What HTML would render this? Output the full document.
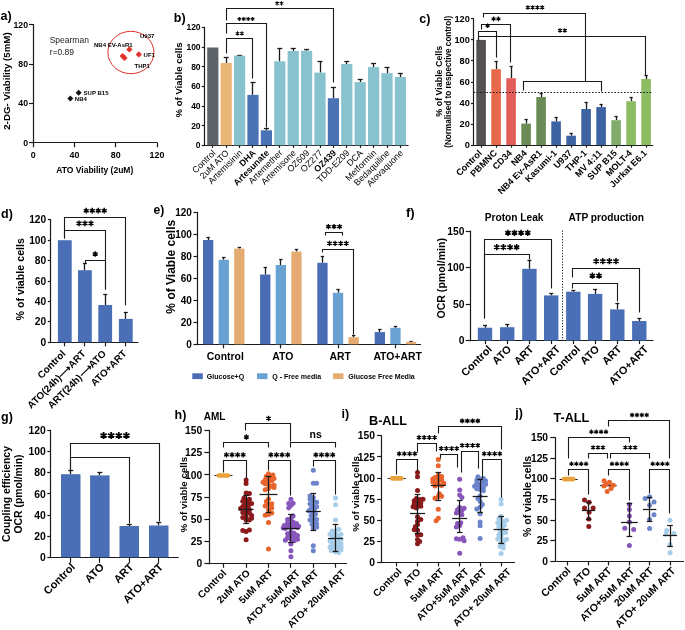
<!DOCTYPE html>
<html><head><meta charset="utf-8"><style>
html,body{margin:0;padding:0;background:#fff;}
svg{display:block;font-family:"Liberation Sans", sans-serif;will-change:transform;}
</style></head><body>
<svg width="685" height="630" viewBox="0 0 685 630">
<rect width="685" height="630" fill="#fff"/>
<text x="0.50" y="19.80" font-size="12.5" font-weight="bold" text-anchor="start" fill="#000" >a)</text>
<line x1="33.50" y1="24.00" x2="33.50" y2="143.40" stroke="#1a1a1a" stroke-width="1.2" />
<line x1="29.00" y1="24.50" x2="33.30" y2="24.50" stroke="#1a1a1a" stroke-width="1.2" />
<text x="28.00" y="27.64" font-size="8.7" font-weight="bold" text-anchor="end" fill="#000" >120</text>
<line x1="29.00" y1="64.50" x2="33.30" y2="64.50" stroke="#1a1a1a" stroke-width="1.2" />
<text x="28.00" y="67.05" font-size="8.7" font-weight="bold" text-anchor="end" fill="#000" >80</text>
<line x1="29.00" y1="103.50" x2="33.30" y2="103.50" stroke="#1a1a1a" stroke-width="1.2" />
<text x="28.00" y="106.45" font-size="8.7" font-weight="bold" text-anchor="end" fill="#000" >40</text>
<line x1="29.00" y1="142.50" x2="33.30" y2="142.50" stroke="#1a1a1a" stroke-width="1.2" />
<text x="28.00" y="145.84" font-size="8.7" font-weight="bold" text-anchor="end" fill="#000" >0</text>
<line x1="32.70" y1="142.50" x2="157.50" y2="142.50" stroke="#1a1a1a" stroke-width="1.2" />
<line x1="33.50" y1="142.80" x2="33.50" y2="147.30" stroke="#1a1a1a" stroke-width="1.2" />
<text x="33.30" y="158.12" font-size="8.9" font-weight="bold" text-anchor="middle" fill="#000" >0</text>
<line x1="74.50" y1="142.80" x2="74.50" y2="147.30" stroke="#1a1a1a" stroke-width="1.2" />
<text x="74.53" y="158.12" font-size="8.9" font-weight="bold" text-anchor="middle" fill="#000" >40</text>
<line x1="115.50" y1="142.80" x2="115.50" y2="147.30" stroke="#1a1a1a" stroke-width="1.2" />
<text x="115.77" y="158.12" font-size="8.9" font-weight="bold" text-anchor="middle" fill="#000" >80</text>
<line x1="157.50" y1="142.80" x2="157.50" y2="147.30" stroke="#1a1a1a" stroke-width="1.2" />
<text x="157.00" y="158.12" font-size="8.9" font-weight="bold" text-anchor="middle" fill="#000" >120</text>
<text x="94.80" y="173.30" font-size="8.5" font-weight="bold" text-anchor="middle" fill="#000" >ATO Viability (2uM)</text>
<text x="10.00" y="81.00" font-size="9.7" font-weight="bold" text-anchor="middle" fill="#000" transform="rotate(-90 10.00 81.00)" >2-DG- Viability (5mM)</text>
<text x="49.70" y="43.20" font-size="8.5"  text-anchor="start" fill="#1a1a1a" >Spearman</text>
<text x="49.70" y="54.80" font-size="8.5"  text-anchor="start" fill="#1a1a1a" >r=0.89</text>
<polygon points="70.3,95.6 73.3,98.6 70.3,101.6 67.3,98.6" fill="#111"/>
<polygon points="78.6,89.7 81.6,92.7 78.6,95.7 75.6,92.7" fill="#111"/>
<polygon points="129.4,46.3 132.5,49.4 129.4,52.5 126.30000000000001,49.4" fill="#e0312a"/>
<polygon points="138.8,51.3 141.9,54.4 138.8,57.5 135.70000000000002,54.4" fill="#e0312a"/>
<polygon points="122.6,52.9 125.69999999999999,56 122.6,59.1 119.5,56" fill="#e0312a"/>
<polygon points="124.5,54.8 127.6,57.9 124.5,61.0 121.4,57.9" fill="#e0312a"/>
<ellipse cx="130.9" cy="52.5" rx="23" ry="21.2" fill="none" stroke="#e0312a" stroke-width="1"/>
<text x="74.80" y="101.20" font-size="6.0" font-weight="bold" text-anchor="start" fill="#000" >NB4</text>
<text x="83.60" y="95.00" font-size="6.0" font-weight="bold" text-anchor="start" fill="#000" >SUP B15</text>
<text x="140.00" y="38.00" font-size="6.0" font-weight="bold" text-anchor="start" fill="#000" >U937</text>
<text x="94.00" y="47.20" font-size="6.0" font-weight="bold" text-anchor="start" fill="#000" >NB4 EV-AsR1</text>
<text x="143.60" y="56.80" font-size="6.0" font-weight="bold" text-anchor="start" fill="#000" >UF1</text>
<text x="134.50" y="67.80" font-size="6.0" font-weight="bold" text-anchor="start" fill="#000" >THP1</text>
<text x="173.80" y="22.00" font-size="12.5" font-weight="bold" text-anchor="start" fill="#000" >b)</text>
<line x1="204.50" y1="26.80" x2="204.50" y2="145.90" stroke="#1a1a1a" stroke-width="1.2" />
<line x1="201.80" y1="27.50" x2="204.40" y2="27.50" stroke="#1a1a1a" stroke-width="1.2" />
<text x="200.60" y="30.38" font-size="8.5" font-weight="bold" text-anchor="end" fill="#000" >120</text>
<line x1="201.80" y1="47.50" x2="204.40" y2="47.50" stroke="#1a1a1a" stroke-width="1.2" />
<text x="200.60" y="50.03" font-size="8.5" font-weight="bold" text-anchor="end" fill="#000" >100</text>
<line x1="201.80" y1="66.50" x2="204.40" y2="66.50" stroke="#1a1a1a" stroke-width="1.2" />
<text x="200.60" y="69.67" font-size="8.5" font-weight="bold" text-anchor="end" fill="#000" >80</text>
<line x1="201.80" y1="86.50" x2="204.40" y2="86.50" stroke="#1a1a1a" stroke-width="1.2" />
<text x="200.60" y="89.33" font-size="8.5" font-weight="bold" text-anchor="end" fill="#000" >60</text>
<line x1="201.80" y1="106.50" x2="204.40" y2="106.50" stroke="#1a1a1a" stroke-width="1.2" />
<text x="200.60" y="108.97" font-size="8.5" font-weight="bold" text-anchor="end" fill="#000" >40</text>
<line x1="201.80" y1="125.50" x2="204.40" y2="125.50" stroke="#1a1a1a" stroke-width="1.2" />
<text x="200.60" y="128.62" font-size="8.5" font-weight="bold" text-anchor="end" fill="#000" >20</text>
<line x1="201.80" y1="145.50" x2="204.40" y2="145.50" stroke="#1a1a1a" stroke-width="1.2" />
<text x="200.60" y="148.28" font-size="8.5" font-weight="bold" text-anchor="end" fill="#000" >0</text>
<line x1="203.80" y1="145.50" x2="408.60" y2="145.50" stroke="#1a1a1a" stroke-width="1.2" />
<text x="182.30" y="80.00" font-size="9.6" font-weight="bold" text-anchor="middle" fill="#000" transform="rotate(-90 182.30 80.00)" >% of Viable cells</text>
<rect x="207.20" y="47.50" width="11.20" height="97.80" fill="#5e6367"/>
<line x1="226.50" y1="57.40" x2="226.50" y2="63.00" stroke="#1a1a1a" stroke-width="1.3" />
<line x1="223.70" y1="57.50" x2="228.70" y2="57.50" stroke="#1a1a1a" stroke-width="1.3" />
<rect x="220.60" y="63.00" width="11.20" height="82.30" fill="#e8b677"/>
<line x1="239.50" y1="55.00" x2="239.50" y2="55.70" stroke="#1a1a1a" stroke-width="1.3" />
<line x1="237.10" y1="55.50" x2="242.10" y2="55.50" stroke="#1a1a1a" stroke-width="1.3" />
<rect x="234.00" y="55.70" width="11.20" height="89.60" fill="#89c2cf"/>
<line x1="252.50" y1="82.10" x2="252.50" y2="94.90" stroke="#1a1a1a" stroke-width="1.3" />
<line x1="250.50" y1="82.50" x2="255.50" y2="82.50" stroke="#1a1a1a" stroke-width="1.3" />
<rect x="247.40" y="94.90" width="11.20" height="50.40" fill="#4a72b5"/>
<line x1="266.50" y1="128.90" x2="266.50" y2="130.30" stroke="#1a1a1a" stroke-width="1.3" />
<line x1="263.90" y1="128.50" x2="268.90" y2="128.50" stroke="#1a1a1a" stroke-width="1.3" />
<rect x="260.80" y="130.30" width="11.20" height="15.00" fill="#4a72b5"/>
<line x1="279.50" y1="48.90" x2="279.50" y2="61.30" stroke="#1a1a1a" stroke-width="1.3" />
<line x1="277.30" y1="48.50" x2="282.30" y2="48.50" stroke="#1a1a1a" stroke-width="1.3" />
<rect x="274.20" y="61.30" width="11.20" height="84.00" fill="#89c2cf"/>
<line x1="293.50" y1="48.90" x2="293.50" y2="51.00" stroke="#1a1a1a" stroke-width="1.3" />
<line x1="290.70" y1="48.50" x2="295.70" y2="48.50" stroke="#1a1a1a" stroke-width="1.3" />
<rect x="287.60" y="51.00" width="11.20" height="94.30" fill="#89c2cf"/>
<line x1="306.50" y1="49.50" x2="306.50" y2="50.80" stroke="#1a1a1a" stroke-width="1.3" />
<line x1="304.10" y1="49.50" x2="309.10" y2="49.50" stroke="#1a1a1a" stroke-width="1.3" />
<rect x="301.00" y="50.80" width="11.20" height="94.50" fill="#89c2cf"/>
<line x1="320.50" y1="61.90" x2="320.50" y2="72.60" stroke="#1a1a1a" stroke-width="1.3" />
<line x1="317.50" y1="61.50" x2="322.50" y2="61.50" stroke="#1a1a1a" stroke-width="1.3" />
<rect x="314.40" y="72.60" width="11.20" height="72.70" fill="#89c2cf"/>
<line x1="333.50" y1="87.10" x2="333.50" y2="98.20" stroke="#1a1a1a" stroke-width="1.3" />
<line x1="330.90" y1="87.50" x2="335.90" y2="87.50" stroke="#1a1a1a" stroke-width="1.3" />
<rect x="327.80" y="98.20" width="11.20" height="47.10" fill="#4a72b5"/>
<line x1="346.50" y1="61.10" x2="346.50" y2="64.00" stroke="#1a1a1a" stroke-width="1.3" />
<line x1="344.30" y1="61.50" x2="349.30" y2="61.50" stroke="#1a1a1a" stroke-width="1.3" />
<rect x="341.20" y="64.00" width="11.20" height="81.30" fill="#89c2cf"/>
<line x1="360.50" y1="79.20" x2="360.50" y2="82.10" stroke="#1a1a1a" stroke-width="1.3" />
<line x1="357.70" y1="79.50" x2="362.70" y2="79.50" stroke="#1a1a1a" stroke-width="1.3" />
<rect x="354.60" y="82.10" width="11.20" height="63.20" fill="#89c2cf"/>
<line x1="373.50" y1="63.80" x2="373.50" y2="67.10" stroke="#1a1a1a" stroke-width="1.3" />
<line x1="371.10" y1="63.50" x2="376.10" y2="63.50" stroke="#1a1a1a" stroke-width="1.3" />
<rect x="368.00" y="67.10" width="11.20" height="78.20" fill="#89c2cf"/>
<line x1="387.50" y1="67.80" x2="387.50" y2="73.10" stroke="#1a1a1a" stroke-width="1.3" />
<line x1="384.50" y1="67.50" x2="389.50" y2="67.50" stroke="#1a1a1a" stroke-width="1.3" />
<rect x="381.40" y="73.10" width="11.20" height="72.20" fill="#89c2cf"/>
<line x1="400.50" y1="73.80" x2="400.50" y2="77.00" stroke="#1a1a1a" stroke-width="1.3" />
<line x1="397.90" y1="73.50" x2="402.90" y2="73.50" stroke="#1a1a1a" stroke-width="1.3" />
<rect x="394.80" y="77.00" width="11.20" height="68.30" fill="#89c2cf"/>
<line x1="212.50" y1="145.30" x2="212.50" y2="147.90" stroke="#1a1a1a" stroke-width="1.2" />
<line x1="226.50" y1="145.30" x2="226.50" y2="147.90" stroke="#1a1a1a" stroke-width="1.2" />
<line x1="239.50" y1="145.30" x2="239.50" y2="147.90" stroke="#1a1a1a" stroke-width="1.2" />
<line x1="252.50" y1="145.30" x2="252.50" y2="147.90" stroke="#1a1a1a" stroke-width="1.2" />
<line x1="266.50" y1="145.30" x2="266.50" y2="147.90" stroke="#1a1a1a" stroke-width="1.2" />
<line x1="279.50" y1="145.30" x2="279.50" y2="147.90" stroke="#1a1a1a" stroke-width="1.2" />
<line x1="293.50" y1="145.30" x2="293.50" y2="147.90" stroke="#1a1a1a" stroke-width="1.2" />
<line x1="306.50" y1="145.30" x2="306.50" y2="147.90" stroke="#1a1a1a" stroke-width="1.2" />
<line x1="320.50" y1="145.30" x2="320.50" y2="147.90" stroke="#1a1a1a" stroke-width="1.2" />
<line x1="333.50" y1="145.30" x2="333.50" y2="147.90" stroke="#1a1a1a" stroke-width="1.2" />
<line x1="346.50" y1="145.30" x2="346.50" y2="147.90" stroke="#1a1a1a" stroke-width="1.2" />
<line x1="360.50" y1="145.30" x2="360.50" y2="147.90" stroke="#1a1a1a" stroke-width="1.2" />
<line x1="373.50" y1="145.30" x2="373.50" y2="147.90" stroke="#1a1a1a" stroke-width="1.2" />
<line x1="387.50" y1="145.30" x2="387.50" y2="147.90" stroke="#1a1a1a" stroke-width="1.2" />
<line x1="400.50" y1="145.30" x2="400.50" y2="147.90" stroke="#1a1a1a" stroke-width="1.2" />
<text x="216.10" y="153.50" font-size="8.9"  text-anchor="end" fill="#000" transform="rotate(-45 216.10 153.50)" >Control</text>
<text x="229.50" y="153.50" font-size="8.9"  text-anchor="end" fill="#000" transform="rotate(-45 229.50 153.50)" >2uM ATO</text>
<text x="242.90" y="153.50" font-size="8.9"  text-anchor="end" fill="#000" transform="rotate(-45 242.90 153.50)" >Artemisinin</text>
<text x="256.30" y="153.50" font-size="8.9" font-weight="bold" text-anchor="end" fill="#000" transform="rotate(-45 256.30 153.50)" >DHA</text>
<text x="269.70" y="153.50" font-size="8.9" font-weight="bold" text-anchor="end" fill="#000" transform="rotate(-45 269.70 153.50)" >Artesunate</text>
<text x="283.10" y="153.50" font-size="8.9"  text-anchor="end" fill="#000" transform="rotate(-45 283.10 153.50)" >Artemether</text>
<text x="296.50" y="153.50" font-size="8.9"  text-anchor="end" fill="#000" transform="rotate(-45 296.50 153.50)" >Artemisone</text>
<text x="309.90" y="153.50" font-size="8.9"  text-anchor="end" fill="#000" transform="rotate(-45 309.90 153.50)" >OZ609</text>
<text x="323.30" y="153.50" font-size="8.9"  text-anchor="end" fill="#000" transform="rotate(-45 323.30 153.50)" >OZ277</text>
<text x="336.70" y="153.50" font-size="8.9" font-weight="bold" text-anchor="end" fill="#000" transform="rotate(-45 336.70 153.50)" >OZ439</text>
<text x="350.10" y="153.50" font-size="8.9"  text-anchor="end" fill="#000" transform="rotate(-45 350.10 153.50)" >TDD-E209</text>
<text x="363.50" y="153.50" font-size="8.9"  text-anchor="end" fill="#000" transform="rotate(-45 363.50 153.50)" >DCA</text>
<text x="376.90" y="153.50" font-size="8.9"  text-anchor="end" fill="#000" transform="rotate(-45 376.90 153.50)" >Metformin</text>
<text x="390.30" y="153.50" font-size="8.9"  text-anchor="end" fill="#000" transform="rotate(-45 390.30 153.50)" >Bedaquiline</text>
<text x="403.70" y="153.50" font-size="8.9"  text-anchor="end" fill="#000" transform="rotate(-45 403.70 153.50)" >Atovaquone</text>
<polyline points="226.50,20.50 226.50,8.50 333.50,8.50 333.50,82.50" fill="none" stroke="#1a1a1a" stroke-width="1.1" stroke-linejoin="miter"/>
<polyline points="226.50,33.50 226.50,23.50 266.50,23.50 266.50,127.50" fill="none" stroke="#1a1a1a" stroke-width="1.1" stroke-linejoin="miter"/>
<polyline points="226.50,53.50 226.50,38.50 252.50,38.50 252.50,78.50" fill="none" stroke="#1a1a1a" stroke-width="1.1" stroke-linejoin="miter"/>
<path d="M277.10 1.21L277.10 5.39M275.29 2.25L278.91 4.34M278.91 2.25L275.29 4.34M281.50 1.21L281.50 5.39M279.69 2.25L283.31 4.34M283.31 2.25L279.69 4.34" stroke="#000" stroke-width="1.04" fill="none"/>
<path d="M239.40 16.91L239.40 21.09M237.59 17.96L241.21 20.04M241.21 17.96L237.59 20.04M243.80 16.91L243.80 21.09M241.99 17.96L245.61 20.04M245.61 17.96L241.99 20.04M248.20 16.91L248.20 21.09M246.39 17.96L250.01 20.04M250.01 17.96L246.39 20.04M252.60 16.91L252.60 21.09M250.79 17.96L254.41 20.04M254.41 17.96L250.79 20.04" stroke="#000" stroke-width="1.04" fill="none"/>
<path d="M237.50 31.31L237.50 35.49M235.69 32.35L239.31 34.45M239.31 32.35L235.69 34.45M241.90 31.31L241.90 35.49M240.09 32.35L243.71 34.45M243.71 32.35L240.09 34.45" stroke="#000" stroke-width="1.04" fill="none"/>
<text x="419.30" y="23.20" font-size="12.5" font-weight="bold" text-anchor="start" fill="#000" >c)</text>
<line x1="473.50" y1="18.30" x2="473.50" y2="145.70" stroke="#1a1a1a" stroke-width="1.2" />
<line x1="471.00" y1="18.50" x2="473.60" y2="18.50" stroke="#1a1a1a" stroke-width="1.2" />
<text x="469.80" y="22.12" font-size="9.2" font-weight="bold" text-anchor="end" fill="#000" >120</text>
<line x1="471.00" y1="39.50" x2="473.60" y2="39.50" stroke="#1a1a1a" stroke-width="1.2" />
<text x="469.80" y="43.15" font-size="9.2" font-weight="bold" text-anchor="end" fill="#000" >100</text>
<line x1="471.00" y1="60.50" x2="473.60" y2="60.50" stroke="#1a1a1a" stroke-width="1.2" />
<text x="469.80" y="64.19" font-size="9.2" font-weight="bold" text-anchor="end" fill="#000" >80</text>
<line x1="471.00" y1="82.50" x2="473.60" y2="82.50" stroke="#1a1a1a" stroke-width="1.2" />
<text x="469.80" y="85.22" font-size="9.2" font-weight="bold" text-anchor="end" fill="#000" >60</text>
<line x1="471.00" y1="103.50" x2="473.60" y2="103.50" stroke="#1a1a1a" stroke-width="1.2" />
<text x="469.80" y="106.25" font-size="9.2" font-weight="bold" text-anchor="end" fill="#000" >40</text>
<line x1="471.00" y1="124.50" x2="473.60" y2="124.50" stroke="#1a1a1a" stroke-width="1.2" />
<text x="469.80" y="127.29" font-size="9.2" font-weight="bold" text-anchor="end" fill="#000" >20</text>
<line x1="471.00" y1="145.50" x2="473.60" y2="145.50" stroke="#1a1a1a" stroke-width="1.2" />
<text x="469.80" y="148.32" font-size="9.2" font-weight="bold" text-anchor="end" fill="#000" >0</text>
<line x1="473.00" y1="145.50" x2="653.30" y2="145.50" stroke="#1a1a1a" stroke-width="1.2" />
<text x="442.30" y="81.20" font-size="8.9" font-weight="bold" text-anchor="middle" fill="#000" transform="rotate(-90 442.30 81.20)" >% of Viable Cells</text>
<text x="450.90" y="81.80" font-size="8.15" font-weight="bold" text-anchor="middle" fill="#000" transform="rotate(-90 450.90 81.80)" >(Normalised to respective control)</text>
<rect x="476.30" y="39.90" width="9.60" height="105.20" fill="#555152"/>
<line x1="496.50" y1="61.00" x2="496.50" y2="69.20" stroke="#1a1a1a" stroke-width="1.3" />
<line x1="494.50" y1="61.50" x2="497.70" y2="61.50" stroke="#1a1a1a" stroke-width="1.3" />
<rect x="491.30" y="69.20" width="9.60" height="75.90" fill="#e8694a"/>
<line x1="511.50" y1="66.40" x2="511.50" y2="78.20" stroke="#1a1a1a" stroke-width="1.3" />
<line x1="509.50" y1="66.50" x2="512.70" y2="66.50" stroke="#1a1a1a" stroke-width="1.3" />
<rect x="506.30" y="78.20" width="9.60" height="66.90" fill="#e35d5a"/>
<line x1="526.50" y1="119.30" x2="526.50" y2="123.60" stroke="#1a1a1a" stroke-width="1.3" />
<line x1="524.50" y1="119.50" x2="527.70" y2="119.50" stroke="#1a1a1a" stroke-width="1.3" />
<rect x="521.30" y="123.60" width="9.60" height="21.50" fill="#6b8c57"/>
<line x1="541.50" y1="93.40" x2="541.50" y2="97.00" stroke="#1a1a1a" stroke-width="1.3" />
<line x1="539.50" y1="93.50" x2="542.70" y2="93.50" stroke="#1a1a1a" stroke-width="1.3" />
<rect x="536.30" y="97.00" width="9.60" height="48.10" fill="#6b8c57"/>
<line x1="556.50" y1="117.90" x2="556.50" y2="121.40" stroke="#1a1a1a" stroke-width="1.3" />
<line x1="554.50" y1="117.50" x2="557.70" y2="117.50" stroke="#1a1a1a" stroke-width="1.3" />
<rect x="551.30" y="121.40" width="9.60" height="23.70" fill="#3e63a3"/>
<line x1="571.50" y1="133.30" x2="571.50" y2="135.70" stroke="#1a1a1a" stroke-width="1.3" />
<line x1="569.50" y1="133.50" x2="572.70" y2="133.50" stroke="#1a1a1a" stroke-width="1.3" />
<rect x="566.30" y="135.70" width="9.60" height="9.40" fill="#3e63a3"/>
<line x1="586.50" y1="102.40" x2="586.50" y2="109.00" stroke="#1a1a1a" stroke-width="1.3" />
<line x1="584.50" y1="102.50" x2="587.70" y2="102.50" stroke="#1a1a1a" stroke-width="1.3" />
<rect x="581.30" y="109.00" width="9.60" height="36.10" fill="#3e63a3"/>
<line x1="601.50" y1="104.30" x2="601.50" y2="107.10" stroke="#1a1a1a" stroke-width="1.3" />
<line x1="599.50" y1="104.50" x2="602.70" y2="104.50" stroke="#1a1a1a" stroke-width="1.3" />
<rect x="596.30" y="107.10" width="9.60" height="38.00" fill="#3e63a3"/>
<line x1="616.50" y1="116.70" x2="616.50" y2="120.20" stroke="#1a1a1a" stroke-width="1.3" />
<line x1="614.50" y1="116.50" x2="617.70" y2="116.50" stroke="#1a1a1a" stroke-width="1.3" />
<rect x="611.30" y="120.20" width="9.60" height="24.90" fill="#80ad6c"/>
<line x1="631.50" y1="97.10" x2="631.50" y2="101.20" stroke="#1a1a1a" stroke-width="1.3" />
<line x1="629.50" y1="97.50" x2="632.70" y2="97.50" stroke="#1a1a1a" stroke-width="1.3" />
<rect x="626.30" y="101.20" width="9.60" height="43.90" fill="#8dbd63"/>
<line x1="646.50" y1="75.00" x2="646.50" y2="79.00" stroke="#1a1a1a" stroke-width="1.3" />
<line x1="644.50" y1="75.50" x2="647.70" y2="75.50" stroke="#1a1a1a" stroke-width="1.3" />
<rect x="641.30" y="79.00" width="9.60" height="66.10" fill="#8dbd63"/>
<line x1="481.50" y1="145.10" x2="481.50" y2="147.70" stroke="#1a1a1a" stroke-width="1.2" />
<line x1="496.50" y1="145.10" x2="496.50" y2="147.70" stroke="#1a1a1a" stroke-width="1.2" />
<line x1="511.50" y1="145.10" x2="511.50" y2="147.70" stroke="#1a1a1a" stroke-width="1.2" />
<line x1="526.50" y1="145.10" x2="526.50" y2="147.70" stroke="#1a1a1a" stroke-width="1.2" />
<line x1="541.50" y1="145.10" x2="541.50" y2="147.70" stroke="#1a1a1a" stroke-width="1.2" />
<line x1="556.50" y1="145.10" x2="556.50" y2="147.70" stroke="#1a1a1a" stroke-width="1.2" />
<line x1="571.50" y1="145.10" x2="571.50" y2="147.70" stroke="#1a1a1a" stroke-width="1.2" />
<line x1="586.50" y1="145.10" x2="586.50" y2="147.70" stroke="#1a1a1a" stroke-width="1.2" />
<line x1="601.50" y1="145.10" x2="601.50" y2="147.70" stroke="#1a1a1a" stroke-width="1.2" />
<line x1="616.50" y1="145.10" x2="616.50" y2="147.70" stroke="#1a1a1a" stroke-width="1.2" />
<line x1="631.50" y1="145.10" x2="631.50" y2="147.70" stroke="#1a1a1a" stroke-width="1.2" />
<line x1="646.50" y1="145.10" x2="646.50" y2="147.70" stroke="#1a1a1a" stroke-width="1.2" />
<text x="482.60" y="153.70" font-size="9.1" font-weight="bold" text-anchor="end" fill="#000" transform="rotate(-45 482.60 153.70)" >Control</text>
<text x="497.60" y="153.70" font-size="9.1" font-weight="bold" text-anchor="end" fill="#000" transform="rotate(-45 497.60 153.70)" >PBMNC</text>
<text x="512.60" y="153.70" font-size="9.1" font-weight="bold" text-anchor="end" fill="#000" transform="rotate(-45 512.60 153.70)" >CD34</text>
<text x="527.60" y="153.70" font-size="9.1" font-weight="bold" text-anchor="end" fill="#000" transform="rotate(-45 527.60 153.70)" >NB4</text>
<text x="542.60" y="153.70" font-size="9.1" font-weight="bold" text-anchor="end" fill="#000" transform="rotate(-45 542.60 153.70)" >NB4 Ev-AsR1</text>
<text x="557.60" y="153.70" font-size="9.1" font-weight="bold" text-anchor="end" fill="#000" transform="rotate(-45 557.60 153.70)" >Kasumi-1</text>
<text x="572.60" y="153.70" font-size="9.1" font-weight="bold" text-anchor="end" fill="#000" transform="rotate(-45 572.60 153.70)" >U937</text>
<text x="587.60" y="153.70" font-size="9.1" font-weight="bold" text-anchor="end" fill="#000" transform="rotate(-45 587.60 153.70)" >THP-1</text>
<text x="602.60" y="153.70" font-size="9.1" font-weight="bold" text-anchor="end" fill="#000" transform="rotate(-45 602.60 153.70)" >MV 4:11</text>
<text x="617.60" y="153.70" font-size="9.1" font-weight="bold" text-anchor="end" fill="#000" transform="rotate(-45 617.60 153.70)" >SUP B15</text>
<text x="632.60" y="153.70" font-size="9.1" font-weight="bold" text-anchor="end" fill="#000" transform="rotate(-45 632.60 153.70)" >MOLT-4</text>
<text x="647.60" y="153.70" font-size="9.1" font-weight="bold" text-anchor="end" fill="#000" transform="rotate(-45 647.60 153.70)" >Jurkat E6.1</text>
<line x1="473.60" y1="92.50" x2="651.70" y2="92.50" stroke="#1a1a1a" stroke-width="1.1" stroke-dasharray="1.6 1.6"/>
<polyline points="483.50,17.50 483.50,13.50 585.50,13.50 585.50,81.50" fill="none" stroke="#1a1a1a" stroke-width="1.1" stroke-linejoin="miter"/>
<polyline points="523.50,90.50 523.50,81.50 601.50,81.50 601.50,91.50" fill="none" stroke="#1a1a1a" stroke-width="1.1" stroke-linejoin="miter"/>
<polyline points="478.50,40.50 478.50,36.50 645.50,36.50 645.50,75.50" fill="none" stroke="#1a1a1a" stroke-width="1.1" stroke-linejoin="miter"/>
<polyline points="481.50,29.50 481.50,24.50 510.50,24.50 510.50,62.50" fill="none" stroke="#1a1a1a" stroke-width="1.1" stroke-linejoin="miter"/>
<polyline points="478.50,40.50 478.50,31.50 496.50,31.50 496.50,57.50" fill="none" stroke="#1a1a1a" stroke-width="1.1" stroke-linejoin="miter"/>
<path d="M527.80 5.22L527.80 9.78M525.83 6.36L529.77 8.64M529.77 6.36L525.83 8.64M532.60 5.22L532.60 9.78M530.63 6.36L534.57 8.64M534.57 6.36L530.63 8.64M537.40 5.22L537.40 9.78M535.43 6.36L539.37 8.64M539.37 6.36L535.43 8.64M542.20 5.22L542.20 9.78M540.23 6.36L544.17 8.64M544.17 6.36L540.23 8.64" stroke="#000" stroke-width="1.14" fill="none"/>
<path d="M560.00 28.22L560.00 32.78M558.03 29.36L561.97 31.64M561.97 29.36L558.03 31.64M564.80 28.22L564.80 32.78M562.83 29.36L566.77 31.64M566.77 29.36L562.83 31.64" stroke="#000" stroke-width="1.14" fill="none"/>
<path d="M493.60 16.62L493.60 21.18M491.63 17.76L495.57 20.04M495.57 17.76L491.63 20.04M498.40 16.62L498.40 21.18M496.43 17.76L500.37 20.04M500.37 17.76L496.43 20.04" stroke="#000" stroke-width="1.14" fill="none"/>
<path d="M487.60 23.52L487.60 28.08M485.63 24.66L489.57 26.94M489.57 24.66L485.63 26.94" stroke="#000" stroke-width="1.14" fill="none"/>
<text x="1.00" y="217.50" font-size="12.5" font-weight="bold" text-anchor="start" fill="#000" >d)</text>
<line x1="50.50" y1="219.30" x2="50.50" y2="342.90" stroke="#1a1a1a" stroke-width="1.2" />
<line x1="47.80" y1="219.50" x2="50.80" y2="219.50" stroke="#1a1a1a" stroke-width="1.2" />
<text x="46.20" y="223.47" font-size="10.2" font-weight="bold" text-anchor="end" fill="#000" >120</text>
<line x1="47.80" y1="240.50" x2="50.80" y2="240.50" stroke="#1a1a1a" stroke-width="1.2" />
<text x="46.20" y="243.87" font-size="10.2" font-weight="bold" text-anchor="end" fill="#000" >100</text>
<line x1="47.80" y1="260.50" x2="50.80" y2="260.50" stroke="#1a1a1a" stroke-width="1.2" />
<text x="46.20" y="264.27" font-size="10.2" font-weight="bold" text-anchor="end" fill="#000" >80</text>
<line x1="47.80" y1="281.50" x2="50.80" y2="281.50" stroke="#1a1a1a" stroke-width="1.2" />
<text x="46.20" y="284.67" font-size="10.2" font-weight="bold" text-anchor="end" fill="#000" >60</text>
<line x1="47.80" y1="301.50" x2="50.80" y2="301.50" stroke="#1a1a1a" stroke-width="1.2" />
<text x="46.20" y="305.07" font-size="10.2" font-weight="bold" text-anchor="end" fill="#000" >40</text>
<line x1="47.80" y1="321.50" x2="50.80" y2="321.50" stroke="#1a1a1a" stroke-width="1.2" />
<text x="46.20" y="325.47" font-size="10.2" font-weight="bold" text-anchor="end" fill="#000" >20</text>
<line x1="47.80" y1="342.50" x2="50.80" y2="342.50" stroke="#1a1a1a" stroke-width="1.2" />
<text x="46.20" y="345.87" font-size="10.2" font-weight="bold" text-anchor="end" fill="#000" >0</text>
<line x1="50.20" y1="342.50" x2="138.40" y2="342.50" stroke="#1a1a1a" stroke-width="1.2" />
<text x="24.30" y="279.30" font-size="10.7" font-weight="bold" text-anchor="middle" fill="#000" transform="rotate(-90 24.30 279.30)" >% of viable cells</text>
<rect x="57.90" y="240.20" width="13.80" height="102.10" fill="#4a6fb6"/>
<line x1="84.50" y1="263.10" x2="84.50" y2="270.20" stroke="#1a1a1a" stroke-width="1.3" />
<line x1="82.90" y1="263.50" x2="86.90" y2="263.50" stroke="#1a1a1a" stroke-width="1.3" />
<rect x="78.00" y="270.20" width="13.80" height="72.10" fill="#4a6fb6"/>
<line x1="105.50" y1="294.30" x2="105.50" y2="305.00" stroke="#1a1a1a" stroke-width="1.3" />
<line x1="103.20" y1="294.50" x2="107.20" y2="294.50" stroke="#1a1a1a" stroke-width="1.3" />
<rect x="98.30" y="305.00" width="13.80" height="37.30" fill="#4a6fb6"/>
<line x1="125.50" y1="312.30" x2="125.50" y2="318.90" stroke="#1a1a1a" stroke-width="1.3" />
<line x1="123.80" y1="312.50" x2="127.80" y2="312.50" stroke="#1a1a1a" stroke-width="1.3" />
<rect x="118.90" y="318.90" width="13.80" height="23.40" fill="#4a6fb6"/>
<line x1="64.50" y1="342.30" x2="64.50" y2="346.30" stroke="#1a1a1a" stroke-width="1.2" />
<line x1="84.50" y1="342.30" x2="84.50" y2="346.30" stroke="#1a1a1a" stroke-width="1.2" />
<line x1="105.50" y1="342.30" x2="105.50" y2="346.30" stroke="#1a1a1a" stroke-width="1.2" />
<line x1="125.50" y1="342.30" x2="125.50" y2="346.30" stroke="#1a1a1a" stroke-width="1.2" />
<text x="66.30" y="354.30" font-size="9.9" font-weight="bold" text-anchor="end" fill="#000" transform="rotate(-45 66.30 354.30)" >Control</text>
<text x="86.40" y="354.30" font-size="9.9" font-weight="bold" text-anchor="end" fill="#000" transform="rotate(-45 86.40 354.30)" >ATO(24h)⟶ART</text>
<text x="106.70" y="354.30" font-size="9.9" font-weight="bold" text-anchor="end" fill="#000" transform="rotate(-45 106.70 354.30)" >ART(24h)⟶ATO</text>
<text x="127.30" y="354.30" font-size="9.9" font-weight="bold" text-anchor="end" fill="#000" transform="rotate(-45 127.30 354.30)" >ATO+ART</text>
<polyline points="64.50,238.50 64.50,217.50 125.50,217.50 125.50,305.50" fill="none" stroke="#1a1a1a" stroke-width="1.1" stroke-linejoin="miter"/>
<polyline points="64.50,238.50 64.50,230.50 105.50,230.50 105.50,289.50" fill="none" stroke="#1a1a1a" stroke-width="1.1" stroke-linejoin="miter"/>
<polyline points="85.50,263.50 85.50,260.50 105.50,260.50 105.50,289.50" fill="none" stroke="#1a1a1a" stroke-width="1.1" stroke-linejoin="miter"/>
<path d="M86.20 207.85L86.20 213.55M83.73 209.27L88.67 212.12M88.67 209.27L83.73 212.12M92.20 207.85L92.20 213.55M89.73 209.27L94.67 212.12M94.67 209.27L89.73 212.12M98.20 207.85L98.20 213.55M95.73 209.27L100.67 212.12M100.67 209.27L95.73 212.12M104.20 207.85L104.20 213.55M101.73 209.27L106.67 212.12M106.67 209.27L101.73 212.12" stroke="#000" stroke-width="1.43" fill="none"/>
<path d="M79.00 220.55L79.00 226.25M76.53 221.97L81.47 224.83M81.47 221.97L76.53 224.83M85.00 220.55L85.00 226.25M82.53 221.97L87.47 224.83M87.47 221.97L82.53 224.83M91.00 220.55L91.00 226.25M88.53 221.97L93.47 224.83M93.47 221.97L88.53 224.83" stroke="#000" stroke-width="1.43" fill="none"/>
<path d="M95.20 251.15L95.20 256.85M92.73 252.57L97.67 255.43M97.67 252.57L92.73 255.43" stroke="#000" stroke-width="1.43" fill="none"/>
<text x="153.50" y="213.80" font-size="12.2" font-weight="bold" text-anchor="start" fill="#000" >e)</text>
<line x1="197.50" y1="212.20" x2="197.50" y2="344.90" stroke="#1a1a1a" stroke-width="1.2" />
<line x1="193.50" y1="212.50" x2="197.90" y2="212.50" stroke="#1a1a1a" stroke-width="1.2" />
<text x="191.90" y="216.30" font-size="10" font-weight="bold" text-anchor="end" fill="#000" >120</text>
<line x1="193.50" y1="234.50" x2="197.90" y2="234.50" stroke="#1a1a1a" stroke-width="1.2" />
<text x="191.90" y="238.22" font-size="10" font-weight="bold" text-anchor="end" fill="#000" >100</text>
<line x1="193.50" y1="256.50" x2="197.90" y2="256.50" stroke="#1a1a1a" stroke-width="1.2" />
<text x="191.90" y="260.13" font-size="10" font-weight="bold" text-anchor="end" fill="#000" >80</text>
<line x1="193.50" y1="278.50" x2="197.90" y2="278.50" stroke="#1a1a1a" stroke-width="1.2" />
<text x="191.90" y="282.05" font-size="10" font-weight="bold" text-anchor="end" fill="#000" >60</text>
<line x1="193.50" y1="300.50" x2="197.90" y2="300.50" stroke="#1a1a1a" stroke-width="1.2" />
<text x="191.90" y="303.97" font-size="10" font-weight="bold" text-anchor="end" fill="#000" >40</text>
<line x1="193.50" y1="322.50" x2="197.90" y2="322.50" stroke="#1a1a1a" stroke-width="1.2" />
<text x="191.90" y="325.88" font-size="10" font-weight="bold" text-anchor="end" fill="#000" >20</text>
<line x1="193.50" y1="344.50" x2="197.90" y2="344.50" stroke="#1a1a1a" stroke-width="1.2" />
<text x="191.90" y="347.80" font-size="10" font-weight="bold" text-anchor="end" fill="#000" >0</text>
<line x1="197.30" y1="344.50" x2="421.00" y2="344.50" stroke="#1a1a1a" stroke-width="1.2" />
<text x="174.60" y="266.70" font-size="12" font-weight="bold" text-anchor="middle" fill="#000" transform="rotate(-90 174.60 266.70)" >% of Viable cells</text>
<line x1="208.50" y1="237.40" x2="208.50" y2="240.00" stroke="#1a1a1a" stroke-width="1.3" />
<line x1="206.45" y1="237.50" x2="209.85" y2="237.50" stroke="#1a1a1a" stroke-width="1.3" />
<rect x="203.00" y="240.00" width="10.30" height="104.30" fill="#4a6cb5"/>
<line x1="223.50" y1="257.20" x2="223.50" y2="259.80" stroke="#1a1a1a" stroke-width="1.3" />
<line x1="222.05" y1="257.50" x2="225.45" y2="257.50" stroke="#1a1a1a" stroke-width="1.3" />
<rect x="218.60" y="259.80" width="10.30" height="84.50" fill="#69a1d3"/>
<line x1="239.50" y1="247.60" x2="239.50" y2="248.60" stroke="#1a1a1a" stroke-width="1.3" />
<line x1="237.65" y1="247.50" x2="241.05" y2="247.50" stroke="#1a1a1a" stroke-width="1.3" />
<rect x="234.20" y="248.60" width="10.30" height="95.70" fill="#e4ab72"/>
<line x1="265.50" y1="267.60" x2="265.50" y2="274.50" stroke="#1a1a1a" stroke-width="1.3" />
<line x1="263.55" y1="267.50" x2="266.95" y2="267.50" stroke="#1a1a1a" stroke-width="1.3" />
<rect x="260.10" y="274.50" width="10.30" height="69.80" fill="#4a6cb5"/>
<line x1="280.50" y1="259.30" x2="280.50" y2="265.00" stroke="#1a1a1a" stroke-width="1.3" />
<line x1="279.15" y1="259.50" x2="282.55" y2="259.50" stroke="#1a1a1a" stroke-width="1.3" />
<rect x="275.70" y="265.00" width="10.30" height="79.30" fill="#69a1d3"/>
<line x1="296.50" y1="249.10" x2="296.50" y2="251.60" stroke="#1a1a1a" stroke-width="1.3" />
<line x1="294.75" y1="249.50" x2="298.15" y2="249.50" stroke="#1a1a1a" stroke-width="1.3" />
<rect x="291.30" y="251.60" width="10.30" height="92.70" fill="#e4ab72"/>
<line x1="322.50" y1="256.00" x2="322.50" y2="262.80" stroke="#1a1a1a" stroke-width="1.3" />
<line x1="320.75" y1="256.50" x2="324.15" y2="256.50" stroke="#1a1a1a" stroke-width="1.3" />
<rect x="317.30" y="262.80" width="10.30" height="81.50" fill="#4a6cb5"/>
<line x1="338.50" y1="289.50" x2="338.50" y2="292.80" stroke="#1a1a1a" stroke-width="1.3" />
<line x1="336.35" y1="289.50" x2="339.75" y2="289.50" stroke="#1a1a1a" stroke-width="1.3" />
<rect x="332.90" y="292.80" width="10.30" height="51.50" fill="#69a1d3"/>
<line x1="353.50" y1="335.20" x2="353.50" y2="337.20" stroke="#1a1a1a" stroke-width="1.3" />
<line x1="351.95" y1="335.50" x2="355.35" y2="335.50" stroke="#1a1a1a" stroke-width="1.3" />
<rect x="348.50" y="337.20" width="10.30" height="7.10" fill="#e4ab72"/>
<line x1="379.50" y1="329.60" x2="379.50" y2="332.10" stroke="#1a1a1a" stroke-width="1.3" />
<line x1="378.15" y1="329.50" x2="381.55" y2="329.50" stroke="#1a1a1a" stroke-width="1.3" />
<rect x="374.70" y="332.10" width="10.30" height="12.20" fill="#4a6cb5"/>
<line x1="395.50" y1="326.60" x2="395.50" y2="327.80" stroke="#1a1a1a" stroke-width="1.3" />
<line x1="393.75" y1="326.50" x2="397.15" y2="326.50" stroke="#1a1a1a" stroke-width="1.3" />
<rect x="390.30" y="327.80" width="10.30" height="16.50" fill="#69a1d3"/>
<line x1="411.50" y1="341.00" x2="411.50" y2="341.80" stroke="#1a1a1a" stroke-width="1.3" />
<line x1="409.35" y1="341.50" x2="412.75" y2="341.50" stroke="#1a1a1a" stroke-width="1.3" />
<rect x="405.90" y="341.80" width="10.30" height="2.50" fill="#e4ab72"/>
<line x1="223.50" y1="344.30" x2="223.50" y2="348.30" stroke="#1a1a1a" stroke-width="1.2" />
<line x1="280.50" y1="344.30" x2="280.50" y2="348.30" stroke="#1a1a1a" stroke-width="1.2" />
<line x1="338.50" y1="344.30" x2="338.50" y2="348.30" stroke="#1a1a1a" stroke-width="1.2" />
<line x1="395.50" y1="344.30" x2="395.50" y2="348.30" stroke="#1a1a1a" stroke-width="1.2" />
<text x="225.30" y="359.70" font-size="10.4" font-weight="bold" text-anchor="middle" fill="#000" >Control</text>
<text x="282.80" y="359.70" font-size="10.4" font-weight="bold" text-anchor="middle" fill="#000" >ATO</text>
<text x="340.20" y="359.70" font-size="10.4" font-weight="bold" text-anchor="middle" fill="#000" >ART</text>
<text x="397.60" y="359.70" font-size="10.4" font-weight="bold" text-anchor="middle" fill="#000" >ATO+ART</text>
<polyline points="325.50,235.50 325.50,232.50 342.50,232.50 342.50,235.50" fill="none" stroke="#1a1a1a" stroke-width="1.1" stroke-linejoin="miter"/>
<polyline points="322.50,252.50 322.50,249.50 353.50,249.50 353.50,334.50" fill="none" stroke="#1a1a1a" stroke-width="1.1" stroke-linejoin="miter"/>
<path d="M328.40 224.04L328.40 229.36M326.10 225.37L330.70 228.03M330.70 225.37L326.10 228.03M334.00 224.04L334.00 229.36M331.70 225.37L336.30 228.03M336.30 225.37L331.70 228.03M339.60 224.04L339.60 229.36M337.30 225.37L341.90 228.03M341.90 225.37L337.30 228.03" stroke="#000" stroke-width="1.33" fill="none"/>
<path d="M329.50 240.64L329.50 245.96M327.20 241.97L331.80 244.63M331.80 241.97L327.20 244.63M335.10 240.64L335.10 245.96M332.80 241.97L337.40 244.63M337.40 241.97L332.80 244.63M340.70 240.64L340.70 245.96M338.40 241.97L343.00 244.63M343.00 241.97L338.40 244.63M346.30 240.64L346.30 245.96M344.00 241.97L348.60 244.63M348.60 241.97L344.00 244.63" stroke="#000" stroke-width="1.33" fill="none"/>
<rect x="192.30" y="373.30" width="10.50" height="5.80" fill="#4a6cb5"/>
<text x="206.80" y="378.67" font-size="7.05" font-weight="bold" text-anchor="start" fill="#000" >Glucose+Q</text>
<rect x="257.00" y="373.30" width="10.50" height="5.80" fill="#69a1d3"/>
<text x="272.20" y="378.67" font-size="7.05" font-weight="bold" text-anchor="start" fill="#000" >Q - Free media</text>
<rect x="333.00" y="373.30" width="10.50" height="5.80" fill="#e4ab72"/>
<text x="348.20" y="378.67" font-size="7.05" font-weight="bold" text-anchor="start" fill="#000" >Glucose Free Media</text>
<text x="406.00" y="217.00" font-size="13" font-weight="bold" text-anchor="start" fill="#000" >f)</text>
<line x1="470.50" y1="230.60" x2="470.50" y2="341.20" stroke="#1a1a1a" stroke-width="1.2" />
<line x1="465.70" y1="231.50" x2="470.70" y2="231.50" stroke="#1a1a1a" stroke-width="1.2" />
<text x="464.40" y="234.80" font-size="10.3" font-weight="bold" text-anchor="end" fill="#000" >150</text>
<line x1="465.70" y1="267.50" x2="470.70" y2="267.50" stroke="#1a1a1a" stroke-width="1.2" />
<text x="464.40" y="271.27" font-size="10.3" font-weight="bold" text-anchor="end" fill="#000" >100</text>
<line x1="465.70" y1="304.50" x2="470.70" y2="304.50" stroke="#1a1a1a" stroke-width="1.2" />
<text x="464.40" y="307.74" font-size="10.3" font-weight="bold" text-anchor="end" fill="#000" >50</text>
<line x1="465.70" y1="340.50" x2="470.70" y2="340.50" stroke="#1a1a1a" stroke-width="1.2" />
<text x="464.40" y="344.21" font-size="10.3" font-weight="bold" text-anchor="end" fill="#000" >0</text>
<line x1="470.10" y1="340.50" x2="653.40" y2="340.50" stroke="#1a1a1a" stroke-width="1.2" />
<text x="445.00" y="278.30" font-size="10.6" font-weight="bold" text-anchor="middle" fill="#000" transform="rotate(-90 445.00 278.30)" >OCR (pmol/min)</text>
<text x="514.10" y="220.80" font-size="10.2" font-weight="bold" text-anchor="middle" fill="#000" >Proton Leak</text>
<text x="606.30" y="220.80" font-size="10.2" font-weight="bold" text-anchor="middle" fill="#000" >ATP production</text>
<line x1="485.50" y1="325.00" x2="485.50" y2="327.70" stroke="#1a1a1a" stroke-width="1.3" />
<line x1="483.00" y1="325.50" x2="487.00" y2="325.50" stroke="#1a1a1a" stroke-width="1.3" />
<rect x="477.80" y="327.70" width="14.40" height="12.90" fill="#4a6fb6"/>
<line x1="507.50" y1="324.30" x2="507.50" y2="327.20" stroke="#1a1a1a" stroke-width="1.3" />
<line x1="505.20" y1="324.50" x2="509.20" y2="324.50" stroke="#1a1a1a" stroke-width="1.3" />
<rect x="500.00" y="327.20" width="14.40" height="13.40" fill="#4a6fb6"/>
<line x1="529.50" y1="260.10" x2="529.50" y2="268.80" stroke="#1a1a1a" stroke-width="1.3" />
<line x1="527.40" y1="260.50" x2="531.40" y2="260.50" stroke="#1a1a1a" stroke-width="1.3" />
<rect x="522.20" y="268.80" width="14.40" height="71.80" fill="#4a6fb6"/>
<line x1="551.50" y1="293.90" x2="551.50" y2="295.40" stroke="#1a1a1a" stroke-width="1.3" />
<line x1="549.20" y1="293.50" x2="553.20" y2="293.50" stroke="#1a1a1a" stroke-width="1.3" />
<rect x="544.00" y="295.40" width="14.40" height="45.20" fill="#4a6fb6"/>
<line x1="573.50" y1="290.10" x2="573.50" y2="291.70" stroke="#1a1a1a" stroke-width="1.3" />
<line x1="571.30" y1="290.50" x2="575.30" y2="290.50" stroke="#1a1a1a" stroke-width="1.3" />
<rect x="566.10" y="291.70" width="14.40" height="48.90" fill="#4a6fb6"/>
<line x1="595.50" y1="289.00" x2="595.50" y2="293.90" stroke="#1a1a1a" stroke-width="1.3" />
<line x1="593.10" y1="289.50" x2="597.10" y2="289.50" stroke="#1a1a1a" stroke-width="1.3" />
<rect x="587.90" y="293.90" width="14.40" height="46.70" fill="#4a6fb6"/>
<line x1="617.50" y1="303.90" x2="617.50" y2="309.40" stroke="#1a1a1a" stroke-width="1.3" />
<line x1="615.30" y1="303.50" x2="619.30" y2="303.50" stroke="#1a1a1a" stroke-width="1.3" />
<rect x="610.10" y="309.40" width="14.40" height="31.20" fill="#4a6fb6"/>
<line x1="639.50" y1="318.30" x2="639.50" y2="321.00" stroke="#1a1a1a" stroke-width="1.3" />
<line x1="637.30" y1="318.50" x2="641.30" y2="318.50" stroke="#1a1a1a" stroke-width="1.3" />
<rect x="632.10" y="321.00" width="14.40" height="19.60" fill="#4a6fb6"/>
<line x1="485.50" y1="340.60" x2="485.50" y2="344.10" stroke="#1a1a1a" stroke-width="1.2" />
<line x1="507.50" y1="340.60" x2="507.50" y2="344.10" stroke="#1a1a1a" stroke-width="1.2" />
<line x1="529.50" y1="340.60" x2="529.50" y2="344.10" stroke="#1a1a1a" stroke-width="1.2" />
<line x1="551.50" y1="340.60" x2="551.50" y2="344.10" stroke="#1a1a1a" stroke-width="1.2" />
<line x1="573.50" y1="340.60" x2="573.50" y2="344.10" stroke="#1a1a1a" stroke-width="1.2" />
<line x1="595.50" y1="340.60" x2="595.50" y2="344.10" stroke="#1a1a1a" stroke-width="1.2" />
<line x1="617.50" y1="340.60" x2="617.50" y2="344.10" stroke="#1a1a1a" stroke-width="1.2" />
<line x1="639.50" y1="340.60" x2="639.50" y2="344.10" stroke="#1a1a1a" stroke-width="1.2" />
<text x="492.62" y="349.90" font-size="10.8" font-weight="bold" text-anchor="end" fill="#000" transform="rotate(-45 492.62 349.90)" >Control</text>
<text x="512.00" y="349.90" font-size="10.8" font-weight="bold" text-anchor="end" fill="#000" transform="rotate(-45 512.00 349.90)" >ATO</text>
<text x="534.27" y="349.90" font-size="10.8" font-weight="bold" text-anchor="end" fill="#000" transform="rotate(-45 534.27 349.90)" >ART</text>
<text x="560.85" y="349.90" font-size="10.8" font-weight="bold" text-anchor="end" fill="#000" transform="rotate(-45 560.85 349.90)" >ATO+ART</text>
<text x="580.92" y="349.90" font-size="10.8" font-weight="bold" text-anchor="end" fill="#000" transform="rotate(-45 580.92 349.90)" >Control</text>
<text x="599.90" y="349.90" font-size="10.8" font-weight="bold" text-anchor="end" fill="#000" transform="rotate(-45 599.90 349.90)" >ATO</text>
<text x="622.17" y="349.90" font-size="10.8" font-weight="bold" text-anchor="end" fill="#000" transform="rotate(-45 622.17 349.90)" >ART</text>
<text x="648.95" y="349.90" font-size="10.8" font-weight="bold" text-anchor="end" fill="#000" transform="rotate(-45 648.95 349.90)" >ATO+ART</text>
<line x1="562.50" y1="230.60" x2="562.50" y2="340.60" stroke="#1a1a1a" stroke-width="1.0" stroke-dasharray="1.2 1.6"/>
<polyline points="484.50,318.50 484.50,239.50 551.50,239.50 551.50,288.50" fill="none" stroke="#1a1a1a" stroke-width="1.1" stroke-linejoin="miter"/>
<polyline points="484.50,318.50 484.50,254.50 529.50,254.50 529.50,259.50" fill="none" stroke="#1a1a1a" stroke-width="1.1" stroke-linejoin="miter"/>
<polyline points="572.50,277.50 572.50,268.50 639.50,268.50 639.50,312.50" fill="none" stroke="#1a1a1a" stroke-width="1.1" stroke-linejoin="miter"/>
<polyline points="572.50,288.50 572.50,283.50 617.50,283.50 617.50,301.50" fill="none" stroke="#1a1a1a" stroke-width="1.1" stroke-linejoin="miter"/>
<path d="M507.90 229.67L507.90 235.94M505.19 231.23L510.61 234.37M510.61 231.23L505.19 234.37M514.50 229.67L514.50 235.94M511.79 231.23L517.21 234.37M517.21 231.23L511.79 234.37M521.10 229.67L521.10 235.94M518.39 231.23L523.81 234.37M523.81 231.23L518.39 234.37M527.70 229.67L527.70 235.94M524.99 231.23L530.41 234.37M530.41 231.23L524.99 234.37" stroke="#000" stroke-width="1.57" fill="none"/>
<path d="M496.80 244.06L496.80 250.33M494.09 245.63L499.51 248.77M499.51 245.63L494.09 248.77M503.40 244.06L503.40 250.33M500.69 245.63L506.11 248.77M506.11 245.63L500.69 248.77M510.00 244.06L510.00 250.33M507.29 245.63L512.71 248.77M512.71 245.63L507.29 248.77M516.60 244.06L516.60 250.33M513.89 245.63L519.31 248.77M519.31 245.63L513.89 248.77" stroke="#000" stroke-width="1.57" fill="none"/>
<path d="M596.20 258.06L596.20 264.33M593.49 259.63L598.91 262.77M598.91 259.63L593.49 262.77M602.80 258.06L602.80 264.33M600.09 259.63L605.51 262.77M605.51 259.63L600.09 262.77M609.40 258.06L609.40 264.33M606.69 259.63L612.11 262.77M612.11 259.63L606.69 262.77M616.00 258.06L616.00 264.33M613.29 259.63L618.71 262.77M618.71 259.63L613.29 262.77" stroke="#000" stroke-width="1.57" fill="none"/>
<path d="M592.40 272.56L592.40 278.83M589.69 274.13L595.11 277.27M595.11 274.13L589.69 277.27M599.00 272.56L599.00 278.83M596.29 274.13L601.71 277.27M601.71 274.13L596.29 277.27" stroke="#000" stroke-width="1.57" fill="none"/>
<text x="1.00" y="420.50" font-size="12.5" font-weight="bold" text-anchor="start" fill="#000" >g)</text>
<line x1="50.50" y1="429.90" x2="50.50" y2="557.90" stroke="#1a1a1a" stroke-width="1.2" />
<line x1="47.30" y1="430.50" x2="50.80" y2="430.50" stroke="#1a1a1a" stroke-width="1.2" />
<text x="45.90" y="434.14" font-size="10.4" font-weight="bold" text-anchor="end" fill="#000" >120</text>
<line x1="47.30" y1="451.50" x2="50.80" y2="451.50" stroke="#1a1a1a" stroke-width="1.2" />
<text x="45.90" y="455.27" font-size="10.4" font-weight="bold" text-anchor="end" fill="#000" >100</text>
<line x1="47.30" y1="472.50" x2="50.80" y2="472.50" stroke="#1a1a1a" stroke-width="1.2" />
<text x="45.90" y="476.41" font-size="10.4" font-weight="bold" text-anchor="end" fill="#000" >80</text>
<line x1="47.30" y1="493.50" x2="50.80" y2="493.50" stroke="#1a1a1a" stroke-width="1.2" />
<text x="45.90" y="497.54" font-size="10.4" font-weight="bold" text-anchor="end" fill="#000" >60</text>
<line x1="47.30" y1="515.50" x2="50.80" y2="515.50" stroke="#1a1a1a" stroke-width="1.2" />
<text x="45.90" y="518.67" font-size="10.4" font-weight="bold" text-anchor="end" fill="#000" >40</text>
<line x1="47.30" y1="536.50" x2="50.80" y2="536.50" stroke="#1a1a1a" stroke-width="1.2" />
<text x="45.90" y="539.81" font-size="10.4" font-weight="bold" text-anchor="end" fill="#000" >20</text>
<line x1="47.30" y1="557.50" x2="50.80" y2="557.50" stroke="#1a1a1a" stroke-width="1.2" />
<text x="45.90" y="560.94" font-size="10.4" font-weight="bold" text-anchor="end" fill="#000" >0</text>
<line x1="50.20" y1="557.50" x2="178.70" y2="557.50" stroke="#1a1a1a" stroke-width="1.2" />
<text x="10.00" y="494.00" font-size="10.4" font-weight="bold" text-anchor="middle" fill="#000" transform="rotate(-90 10.00 494.00)" >Coupling efficiency</text>
<text x="22.00" y="494.00" font-size="10.4" font-weight="bold" text-anchor="middle" fill="#000" transform="rotate(-90 22.00 494.00)" >OCR (pmol/min)</text>
<line x1="70.50" y1="470.60" x2="70.50" y2="474.20" stroke="#1a1a1a" stroke-width="1.3" />
<line x1="68.25" y1="470.50" x2="73.25" y2="470.50" stroke="#1a1a1a" stroke-width="1.3" />
<rect x="61.00" y="474.20" width="19.50" height="83.10" fill="#4a6fb6"/>
<line x1="99.50" y1="472.40" x2="99.50" y2="475.40" stroke="#1a1a1a" stroke-width="1.3" />
<line x1="97.35" y1="472.50" x2="102.35" y2="472.50" stroke="#1a1a1a" stroke-width="1.3" />
<rect x="90.10" y="475.40" width="19.50" height="81.90" fill="#4a6fb6"/>
<line x1="129.50" y1="524.40" x2="129.50" y2="526.00" stroke="#1a1a1a" stroke-width="1.3" />
<line x1="126.75" y1="524.50" x2="131.75" y2="524.50" stroke="#1a1a1a" stroke-width="1.3" />
<rect x="119.50" y="526.00" width="19.50" height="31.30" fill="#4a6fb6"/>
<line x1="158.50" y1="522.40" x2="158.50" y2="525.50" stroke="#1a1a1a" stroke-width="1.3" />
<line x1="156.25" y1="522.50" x2="161.25" y2="522.50" stroke="#1a1a1a" stroke-width="1.3" />
<rect x="149.00" y="525.50" width="19.50" height="31.80" fill="#4a6fb6"/>
<line x1="70.50" y1="557.30" x2="70.50" y2="562.80" stroke="#1a1a1a" stroke-width="1.2" />
<line x1="99.50" y1="557.30" x2="99.50" y2="562.80" stroke="#1a1a1a" stroke-width="1.2" />
<line x1="129.50" y1="557.30" x2="129.50" y2="562.80" stroke="#1a1a1a" stroke-width="1.2" />
<line x1="158.50" y1="557.30" x2="158.50" y2="562.80" stroke="#1a1a1a" stroke-width="1.2" />
<text x="75.75" y="567.70" font-size="11" font-weight="bold" text-anchor="end" fill="#000" transform="rotate(-45 75.75 567.70)" >Control</text>
<text x="104.85" y="567.70" font-size="11" font-weight="bold" text-anchor="end" fill="#000" transform="rotate(-45 104.85 567.70)" >ATO</text>
<text x="134.25" y="567.70" font-size="11" font-weight="bold" text-anchor="end" fill="#000" transform="rotate(-45 134.25 567.70)" >ART</text>
<text x="163.75" y="567.70" font-size="11" font-weight="bold" text-anchor="end" fill="#000" transform="rotate(-45 163.75 567.70)" >ATO+ART</text>
<polyline points="70.50,470.50 70.50,443.50 159.50,443.50 159.50,521.50" fill="none" stroke="#1a1a1a" stroke-width="1.1" stroke-linejoin="miter"/>
<polyline points="70.50,470.50 70.50,457.50 129.50,457.50 129.50,523.50" fill="none" stroke="#1a1a1a" stroke-width="1.1" stroke-linejoin="miter"/>
<path d="M103.60 431.89L103.60 439.11M100.47 433.69L106.73 437.31M106.73 433.69L100.47 437.31M111.20 431.89L111.20 439.11M108.07 433.69L114.33 437.31M114.33 433.69L108.07 437.31M118.80 431.89L118.80 439.11M115.67 433.69L121.93 437.31M121.93 433.69L115.67 437.31M126.40 431.89L126.40 439.11M123.27 433.69L129.53 437.31M129.53 433.69L123.27 437.31" stroke="#000" stroke-width="1.80" fill="none"/>
<line x1="209.50" y1="429.90" x2="209.50" y2="564.40" stroke="#1a1a1a" stroke-width="1.2" />
<line x1="204.40" y1="430.50" x2="209.10" y2="430.50" stroke="#1a1a1a" stroke-width="1.2" />
<text x="202.20" y="434.20" font-size="10.3" font-weight="bold" text-anchor="end" fill="#000" >150</text>
<line x1="204.40" y1="452.50" x2="209.10" y2="452.50" stroke="#1a1a1a" stroke-width="1.2" />
<text x="202.20" y="456.40" font-size="10.3" font-weight="bold" text-anchor="end" fill="#000" >125</text>
<line x1="204.40" y1="474.50" x2="209.10" y2="474.50" stroke="#1a1a1a" stroke-width="1.2" />
<text x="202.20" y="478.60" font-size="10.3" font-weight="bold" text-anchor="end" fill="#000" >100</text>
<line x1="204.40" y1="497.50" x2="209.10" y2="497.50" stroke="#1a1a1a" stroke-width="1.2" />
<text x="202.20" y="500.80" font-size="10.3" font-weight="bold" text-anchor="end" fill="#000" >75</text>
<line x1="204.40" y1="519.50" x2="209.10" y2="519.50" stroke="#1a1a1a" stroke-width="1.2" />
<text x="202.20" y="523.00" font-size="10.3" font-weight="bold" text-anchor="end" fill="#000" >50</text>
<line x1="204.40" y1="541.50" x2="209.10" y2="541.50" stroke="#1a1a1a" stroke-width="1.2" />
<text x="202.20" y="545.20" font-size="10.3" font-weight="bold" text-anchor="end" fill="#000" >25</text>
<line x1="204.40" y1="563.50" x2="209.10" y2="563.50" stroke="#1a1a1a" stroke-width="1.2" />
<text x="202.20" y="567.40" font-size="10.3" font-weight="bold" text-anchor="end" fill="#000" >0</text>
<line x1="208.50" y1="563.50" x2="347.00" y2="563.50" stroke="#1a1a1a" stroke-width="1.2" />
<text x="187.50" y="494.60" font-size="9.8" font-weight="bold" text-anchor="middle" fill="#000" transform="rotate(-90 187.50 494.60)" >% of viable cells</text>
<text x="174.50" y="418.80" font-size="12.5" font-weight="bold" text-anchor="start" fill="#000" >h)</text>
<text x="214.50" y="420.00" font-size="10" font-weight="bold" text-anchor="middle" fill="#000" >AML</text>
<line x1="223.50" y1="563.80" x2="223.50" y2="567.80" stroke="#1a1a1a" stroke-width="1.2" />
<line x1="246.50" y1="563.80" x2="246.50" y2="567.80" stroke="#1a1a1a" stroke-width="1.2" />
<line x1="268.50" y1="563.80" x2="268.50" y2="567.80" stroke="#1a1a1a" stroke-width="1.2" />
<line x1="290.50" y1="563.80" x2="290.50" y2="567.80" stroke="#1a1a1a" stroke-width="1.2" />
<line x1="313.50" y1="563.80" x2="313.50" y2="567.80" stroke="#1a1a1a" stroke-width="1.2" />
<line x1="335.50" y1="563.80" x2="335.50" y2="567.80" stroke="#1a1a1a" stroke-width="1.2" />
<text x="226.90" y="573.80" font-size="10.0" font-weight="bold" text-anchor="end" fill="#000" transform="rotate(-45 226.90 573.80)" >Control</text>
<text x="250.80" y="573.80" font-size="10.0" font-weight="bold" text-anchor="end" fill="#000" transform="rotate(-45 250.80 573.80)" >2uM ATO</text>
<text x="273.26" y="573.80" font-size="10.0" font-weight="bold" text-anchor="end" fill="#000" transform="rotate(-45 273.26 573.80)" >5uM ART</text>
<text x="300.56" y="573.80" font-size="10.0" font-weight="bold" text-anchor="end" fill="#000" transform="rotate(-45 300.56 573.80)" >ATO+ 5uM ART</text>
<text x="319.01" y="573.80" font-size="10.0" font-weight="bold" text-anchor="end" fill="#000" transform="rotate(-45 319.01 573.80)" >20uM ART</text>
<text x="346.10" y="573.80" font-size="10.0" font-weight="bold" text-anchor="end" fill="#000" transform="rotate(-45 346.10 573.80)" >ATO+ 20uM ART</text>
<line x1="214.40" y1="475.50" x2="232.40" y2="475.50" stroke="#1a1a1a" stroke-width="1.0" />
<line x1="218.80" y1="475.50" x2="228.00" y2="475.50" stroke="#e9a23b" stroke-width="4.7" stroke-linecap="round"/>
<circle cx="246.10" cy="500.77" r="2.5" fill="#8b1a1a"/>
<circle cx="246.10" cy="510.99" r="2.5" fill="#8b1a1a"/>
<circle cx="248.30" cy="502.74" r="2.5" fill="#8b1a1a"/>
<circle cx="246.10" cy="492.90" r="2.5" fill="#8b1a1a"/>
<circle cx="245.00" cy="504.33" r="2.5" fill="#8b1a1a"/>
<circle cx="246.10" cy="516.76" r="2.5" fill="#8b1a1a"/>
<circle cx="249.40" cy="509.59" r="2.5" fill="#8b1a1a"/>
<circle cx="246.10" cy="539.70" r="2.5" fill="#8b1a1a"/>
<circle cx="248.30" cy="505.85" r="2.5" fill="#8b1a1a"/>
<circle cx="242.80" cy="517.42" r="2.5" fill="#8b1a1a"/>
<circle cx="246.10" cy="480.00" r="2.5" fill="#8b1a1a"/>
<circle cx="242.80" cy="512.46" r="2.5" fill="#8b1a1a"/>
<circle cx="246.10" cy="483.60" r="2.5" fill="#8b1a1a"/>
<circle cx="242.80" cy="506.40" r="2.5" fill="#8b1a1a"/>
<circle cx="243.90" cy="498.34" r="2.5" fill="#8b1a1a"/>
<circle cx="249.40" cy="512.77" r="2.5" fill="#8b1a1a"/>
<circle cx="242.80" cy="501.21" r="2.5" fill="#8b1a1a"/>
<circle cx="246.10" cy="531.50" r="2.5" fill="#8b1a1a"/>
<circle cx="246.10" cy="513.92" r="2.5" fill="#8b1a1a"/>
<circle cx="242.80" cy="530.50" r="2.5" fill="#8b1a1a"/>
<circle cx="251.60" cy="515.38" r="2.5" fill="#8b1a1a"/>
<circle cx="246.10" cy="520.00" r="2.5" fill="#8b1a1a"/>
<circle cx="240.60" cy="508.53" r="2.5" fill="#8b1a1a"/>
<circle cx="249.40" cy="493.50" r="2.5" fill="#8b1a1a"/>
<circle cx="246.10" cy="507.86" r="2.5" fill="#8b1a1a"/>
<circle cx="249.40" cy="519.93" r="2.5" fill="#8b1a1a"/>
<circle cx="251.60" cy="503.61" r="2.5" fill="#8b1a1a"/>
<circle cx="249.40" cy="499.20" r="2.5" fill="#8b1a1a"/>
<circle cx="249.40" cy="530.00" r="2.5" fill="#8b1a1a"/>
<circle cx="251.60" cy="518.28" r="2.5" fill="#8b1a1a"/>
<line x1="238.60" y1="509.50" x2="253.60" y2="509.50" stroke="#1a1a1a" stroke-width="1.25" />
<line x1="246.50" y1="495.00" x2="246.50" y2="523.80" stroke="#1a1a1a" stroke-width="1.25" />
<line x1="243.30" y1="495.50" x2="248.90" y2="495.50" stroke="#1a1a1a" stroke-width="1.25" />
<line x1="243.30" y1="523.50" x2="248.90" y2="523.50" stroke="#1a1a1a" stroke-width="1.25" />
<circle cx="268.50" cy="499.04" r="2.5" fill="#e8642c"/>
<circle cx="268.50" cy="504.28" r="2.5" fill="#e8642c"/>
<circle cx="271.80" cy="503.64" r="2.5" fill="#e8642c"/>
<circle cx="268.50" cy="479.79" r="2.5" fill="#e8642c"/>
<circle cx="268.50" cy="484.38" r="2.5" fill="#e8642c"/>
<circle cx="268.50" cy="509.78" r="2.5" fill="#e8642c"/>
<circle cx="268.50" cy="488.62" r="2.5" fill="#e8642c"/>
<circle cx="271.80" cy="507.94" r="2.5" fill="#e8642c"/>
<circle cx="266.30" cy="501.59" r="2.5" fill="#e8642c"/>
<circle cx="271.80" cy="480.79" r="2.5" fill="#e8642c"/>
<circle cx="268.50" cy="514.58" r="2.5" fill="#e8642c"/>
<circle cx="265.20" cy="515.37" r="2.5" fill="#e8642c"/>
<circle cx="268.50" cy="549.00" r="2.5" fill="#e8642c"/>
<circle cx="269.60" cy="476.95" r="2.5" fill="#e8642c"/>
<circle cx="265.20" cy="489.65" r="2.5" fill="#e8642c"/>
<circle cx="265.20" cy="483.83" r="2.5" fill="#e8642c"/>
<circle cx="270.70" cy="486.36" r="2.5" fill="#e8642c"/>
<circle cx="271.80" cy="512.98" r="2.5" fill="#e8642c"/>
<circle cx="268.50" cy="522.60" r="2.5" fill="#e8642c"/>
<circle cx="265.20" cy="479.74" r="2.5" fill="#e8642c"/>
<circle cx="274.00" cy="487.60" r="2.5" fill="#e8642c"/>
<circle cx="263.00" cy="482.32" r="2.5" fill="#e8642c"/>
<circle cx="265.20" cy="506.01" r="2.5" fill="#e8642c"/>
<circle cx="266.30" cy="476.34" r="2.5" fill="#e8642c"/>
<circle cx="268.50" cy="473.81" r="2.5" fill="#e8642c"/>
<circle cx="274.00" cy="478.52" r="2.5" fill="#e8642c"/>
<circle cx="272.90" cy="475.08" r="2.5" fill="#e8642c"/>
<circle cx="274.00" cy="485.13" r="2.5" fill="#e8642c"/>
<line x1="259.50" y1="494.50" x2="277.50" y2="494.50" stroke="#1a1a1a" stroke-width="1.25" />
<line x1="268.50" y1="476.40" x2="268.50" y2="512.60" stroke="#1a1a1a" stroke-width="1.25" />
<line x1="265.70" y1="476.50" x2="271.30" y2="476.50" stroke="#1a1a1a" stroke-width="1.25" />
<line x1="265.70" y1="512.50" x2="271.30" y2="512.50" stroke="#1a1a1a" stroke-width="1.25" />
<circle cx="290.90" cy="505.60" r="2.5" fill="#8856bb"/>
<circle cx="290.90" cy="527.15" r="2.5" fill="#8856bb"/>
<circle cx="294.20" cy="527.08" r="2.5" fill="#8856bb"/>
<circle cx="290.90" cy="556.70" r="2.5" fill="#8856bb"/>
<circle cx="290.90" cy="518.53" r="2.5" fill="#8856bb"/>
<circle cx="290.90" cy="531.92" r="2.5" fill="#8856bb"/>
<circle cx="290.90" cy="535.46" r="2.5" fill="#8856bb"/>
<circle cx="290.90" cy="539.09" r="2.5" fill="#8856bb"/>
<circle cx="290.90" cy="499.18" r="2.5" fill="#8856bb"/>
<circle cx="287.60" cy="526.33" r="2.5" fill="#8856bb"/>
<circle cx="288.70" cy="507.88" r="2.5" fill="#8856bb"/>
<circle cx="284.30" cy="525.45" r="2.5" fill="#8856bb"/>
<circle cx="297.50" cy="527.39" r="2.5" fill="#8856bb"/>
<circle cx="290.90" cy="543.88" r="2.5" fill="#8856bb"/>
<circle cx="294.20" cy="540.73" r="2.5" fill="#8856bb"/>
<circle cx="298.60" cy="526.37" r="2.5" fill="#8856bb"/>
<circle cx="287.60" cy="537.79" r="2.5" fill="#8856bb"/>
<circle cx="294.20" cy="533.32" r="2.5" fill="#8856bb"/>
<circle cx="293.10" cy="516.06" r="2.5" fill="#8856bb"/>
<circle cx="288.70" cy="503.54" r="2.5" fill="#8856bb"/>
<circle cx="287.60" cy="533.63" r="2.5" fill="#8856bb"/>
<circle cx="285.40" cy="528.61" r="2.5" fill="#8856bb"/>
<circle cx="290.90" cy="523.99" r="2.5" fill="#8856bb"/>
<circle cx="283.20" cy="527.99" r="2.5" fill="#8856bb"/>
<circle cx="290.90" cy="550.80" r="2.5" fill="#8856bb"/>
<circle cx="285.40" cy="540.24" r="2.5" fill="#8856bb"/>
<circle cx="287.60" cy="519.38" r="2.5" fill="#8856bb"/>
<circle cx="293.10" cy="521.95" r="2.5" fill="#8856bb"/>
<circle cx="294.20" cy="537.29" r="2.5" fill="#8856bb"/>
<circle cx="297.50" cy="539.28" r="2.5" fill="#8856bb"/>
<circle cx="288.70" cy="527.06" r="2.5" fill="#8856bb"/>
<circle cx="293.10" cy="503.16" r="2.5" fill="#8856bb"/>
<circle cx="297.50" cy="535.47" r="2.5" fill="#8856bb"/>
<circle cx="293.10" cy="526.71" r="2.5" fill="#8856bb"/>
<circle cx="287.60" cy="523.12" r="2.5" fill="#8856bb"/>
<circle cx="296.40" cy="523.51" r="2.5" fill="#8856bb"/>
<circle cx="296.40" cy="526.79" r="2.5" fill="#8856bb"/>
<line x1="282.40" y1="528.50" x2="299.40" y2="528.50" stroke="#1a1a1a" stroke-width="1.25" />
<line x1="290.50" y1="514.20" x2="290.50" y2="542.50" stroke="#1a1a1a" stroke-width="1.25" />
<line x1="288.10" y1="514.50" x2="293.70" y2="514.50" stroke="#1a1a1a" stroke-width="1.25" />
<line x1="288.10" y1="542.50" x2="293.70" y2="542.50" stroke="#1a1a1a" stroke-width="1.25" />
<circle cx="313.30" cy="500.94" r="2.5" fill="#6b84cb"/>
<circle cx="316.60" cy="502.21" r="2.5" fill="#6b84cb"/>
<circle cx="313.30" cy="545.80" r="2.5" fill="#6b84cb"/>
<circle cx="313.30" cy="483.30" r="2.5" fill="#6b84cb"/>
<circle cx="313.30" cy="505.63" r="2.5" fill="#6b84cb"/>
<circle cx="313.30" cy="528.20" r="2.5" fill="#6b84cb"/>
<circle cx="313.30" cy="512.19" r="2.5" fill="#6b84cb"/>
<circle cx="313.30" cy="521.89" r="2.5" fill="#6b84cb"/>
<circle cx="313.30" cy="517.72" r="2.5" fill="#6b84cb"/>
<circle cx="311.10" cy="508.27" r="2.5" fill="#6b84cb"/>
<circle cx="316.60" cy="483.30" r="2.5" fill="#6b84cb"/>
<circle cx="316.60" cy="527.22" r="2.5" fill="#6b84cb"/>
<circle cx="310.00" cy="503.74" r="2.5" fill="#6b84cb"/>
<circle cx="313.30" cy="497.45" r="2.5" fill="#6b84cb"/>
<circle cx="316.60" cy="519.56" r="2.5" fill="#6b84cb"/>
<circle cx="310.00" cy="496.08" r="2.5" fill="#6b84cb"/>
<circle cx="315.50" cy="514.21" r="2.5" fill="#6b84cb"/>
<circle cx="314.40" cy="509.26" r="2.5" fill="#6b84cb"/>
<circle cx="313.30" cy="550.80" r="2.5" fill="#6b84cb"/>
<circle cx="316.60" cy="506.81" r="2.5" fill="#6b84cb"/>
<circle cx="310.00" cy="499.09" r="2.5" fill="#6b84cb"/>
<circle cx="312.20" cy="524.61" r="2.5" fill="#6b84cb"/>
<circle cx="316.60" cy="523.92" r="2.5" fill="#6b84cb"/>
<circle cx="311.10" cy="515.49" r="2.5" fill="#6b84cb"/>
<circle cx="308.90" cy="510.74" r="2.5" fill="#6b84cb"/>
<circle cx="310.00" cy="520.10" r="2.5" fill="#6b84cb"/>
<circle cx="313.30" cy="470.30" r="2.5" fill="#6b84cb"/>
<line x1="305.80" y1="511.50" x2="320.80" y2="511.50" stroke="#1a1a1a" stroke-width="1.25" />
<line x1="313.50" y1="493.30" x2="313.50" y2="530.00" stroke="#1a1a1a" stroke-width="1.25" />
<line x1="310.50" y1="493.50" x2="316.10" y2="493.50" stroke="#1a1a1a" stroke-width="1.25" />
<line x1="310.50" y1="530.50" x2="316.10" y2="530.50" stroke="#1a1a1a" stroke-width="1.25" />
<circle cx="335.50" cy="531.07" r="2.5" fill="#a6cdea"/>
<circle cx="335.50" cy="537.07" r="2.5" fill="#a6cdea"/>
<circle cx="335.50" cy="498.00" r="2.5" fill="#a6cdea"/>
<circle cx="335.50" cy="542.21" r="2.5" fill="#a6cdea"/>
<circle cx="335.50" cy="551.67" r="2.5" fill="#a6cdea"/>
<circle cx="338.80" cy="552.59" r="2.5" fill="#a6cdea"/>
<circle cx="332.20" cy="535.34" r="2.5" fill="#a6cdea"/>
<circle cx="335.50" cy="545.82" r="2.5" fill="#a6cdea"/>
<circle cx="338.80" cy="535.72" r="2.5" fill="#a6cdea"/>
<circle cx="333.30" cy="548.41" r="2.5" fill="#a6cdea"/>
<circle cx="338.80" cy="529.21" r="2.5" fill="#a6cdea"/>
<circle cx="332.20" cy="539.15" r="2.5" fill="#a6cdea"/>
<circle cx="338.80" cy="545.85" r="2.5" fill="#a6cdea"/>
<circle cx="335.50" cy="504.70" r="2.5" fill="#a6cdea"/>
<circle cx="331.10" cy="550.48" r="2.5" fill="#a6cdea"/>
<circle cx="330.00" cy="547.05" r="2.5" fill="#a6cdea"/>
<circle cx="341.00" cy="547.23" r="2.5" fill="#a6cdea"/>
<circle cx="336.60" cy="547.69" r="2.5" fill="#a6cdea"/>
<circle cx="335.50" cy="534.91" r="2.5" fill="#a6cdea"/>
<circle cx="332.20" cy="530.98" r="2.5" fill="#a6cdea"/>
<circle cx="338.80" cy="549.05" r="2.5" fill="#a6cdea"/>
<circle cx="332.20" cy="543.89" r="2.5" fill="#a6cdea"/>
<circle cx="338.80" cy="541.44" r="2.5" fill="#a6cdea"/>
<circle cx="330.00" cy="541.04" r="2.5" fill="#a6cdea"/>
<circle cx="341.00" cy="534.18" r="2.5" fill="#a6cdea"/>
<circle cx="341.00" cy="544.07" r="2.5" fill="#a6cdea"/>
<circle cx="341.00" cy="549.66" r="2.5" fill="#a6cdea"/>
<circle cx="335.50" cy="520.00" r="2.5" fill="#a6cdea"/>
<circle cx="341.00" cy="539.25" r="2.5" fill="#a6cdea"/>
<circle cx="333.30" cy="547.54" r="2.5" fill="#a6cdea"/>
<circle cx="330.00" cy="534.31" r="2.5" fill="#a6cdea"/>
<line x1="328.00" y1="538.50" x2="343.00" y2="538.50" stroke="#1a1a1a" stroke-width="1.25" />
<line x1="335.50" y1="524.70" x2="335.50" y2="551.70" stroke="#1a1a1a" stroke-width="1.25" />
<line x1="332.70" y1="524.50" x2="338.30" y2="524.50" stroke="#1a1a1a" stroke-width="1.25" />
<line x1="332.70" y1="551.50" x2="338.30" y2="551.50" stroke="#1a1a1a" stroke-width="1.25" />
<polyline points="245.50,430.50 245.50,423.50 290.50,423.50 290.50,441.50" fill="none" stroke="#1a1a1a" stroke-width="1.1" stroke-linejoin="miter"/>
<polyline points="223.50,447.50 223.50,442.50 268.50,442.50 268.50,447.50" fill="none" stroke="#1a1a1a" stroke-width="1.1" stroke-linejoin="miter"/>
<polyline points="290.50,447.50 290.50,442.50 335.50,442.50 335.50,447.50" fill="none" stroke="#1a1a1a" stroke-width="1.1" stroke-linejoin="miter"/>
<polyline points="223.50,472.50 223.50,460.50 246.50,460.50 246.50,478.50" fill="none" stroke="#1a1a1a" stroke-width="1.1" stroke-linejoin="miter"/>
<polyline points="268.50,470.50 268.50,460.50 290.50,460.50 290.50,495.50" fill="none" stroke="#1a1a1a" stroke-width="1.1" stroke-linejoin="miter"/>
<polyline points="313.50,466.50 313.50,460.50 335.50,460.50 335.50,494.50" fill="none" stroke="#1a1a1a" stroke-width="1.1" stroke-linejoin="miter"/>
<path d="M268.50 415.64L268.50 420.96M266.20 416.97L270.80 419.63M270.80 416.97L266.20 419.63" stroke="#000" stroke-width="1.33" fill="none"/>
<path d="M246.40 434.34L246.40 439.66M244.10 435.67L248.70 438.33M248.70 435.67L244.10 438.33" stroke="#000" stroke-width="1.33" fill="none"/>
<text x="315.70" y="438.18" font-size="10.5" font-weight="bold" text-anchor="middle" fill="#000" >ns</text>
<path d="M226.40 452.14L226.40 457.46M224.10 453.47L228.70 456.13M228.70 453.47L224.10 456.13M232.00 452.14L232.00 457.46M229.70 453.47L234.30 456.13M234.30 453.47L229.70 456.13M237.60 452.14L237.60 457.46M235.30 453.47L239.90 456.13M239.90 453.47L235.30 456.13M243.20 452.14L243.20 457.46M240.90 453.47L245.50 456.13M245.50 453.47L240.90 456.13" stroke="#000" stroke-width="1.33" fill="none"/>
<path d="M270.90 452.14L270.90 457.46M268.60 453.47L273.20 456.13M273.20 453.47L268.60 456.13M276.50 452.14L276.50 457.46M274.20 453.47L278.80 456.13M278.80 453.47L274.20 456.13M282.10 452.14L282.10 457.46M279.80 453.47L284.40 456.13M284.40 453.47L279.80 456.13M287.70 452.14L287.70 457.46M285.40 453.47L290.00 456.13M290.00 453.47L285.40 456.13" stroke="#000" stroke-width="1.33" fill="none"/>
<path d="M315.90 452.14L315.90 457.46M313.60 453.47L318.20 456.13M318.20 453.47L313.60 456.13M321.50 452.14L321.50 457.46M319.20 453.47L323.80 456.13M323.80 453.47L319.20 456.13M327.10 452.14L327.10 457.46M324.80 453.47L329.40 456.13M329.40 453.47L324.80 456.13M332.70 452.14L332.70 457.46M330.40 453.47L335.00 456.13M335.00 453.47L330.40 456.13" stroke="#000" stroke-width="1.33" fill="none"/>
<line x1="381.50" y1="435.30" x2="381.50" y2="563.00" stroke="#1a1a1a" stroke-width="1.2" />
<line x1="377.10" y1="435.50" x2="381.80" y2="435.50" stroke="#1a1a1a" stroke-width="1.2" />
<text x="374.90" y="439.40" font-size="10.3" font-weight="bold" text-anchor="end" fill="#000" >150</text>
<line x1="377.10" y1="456.50" x2="381.80" y2="456.50" stroke="#1a1a1a" stroke-width="1.2" />
<text x="374.90" y="460.50" font-size="10.3" font-weight="bold" text-anchor="end" fill="#000" >125</text>
<line x1="377.10" y1="478.50" x2="381.80" y2="478.50" stroke="#1a1a1a" stroke-width="1.2" />
<text x="374.90" y="481.61" font-size="10.3" font-weight="bold" text-anchor="end" fill="#000" >100</text>
<line x1="377.10" y1="499.50" x2="381.80" y2="499.50" stroke="#1a1a1a" stroke-width="1.2" />
<text x="374.90" y="502.70" font-size="10.3" font-weight="bold" text-anchor="end" fill="#000" >75</text>
<line x1="377.10" y1="520.50" x2="381.80" y2="520.50" stroke="#1a1a1a" stroke-width="1.2" />
<text x="374.90" y="523.80" font-size="10.3" font-weight="bold" text-anchor="end" fill="#000" >50</text>
<line x1="377.10" y1="541.50" x2="381.80" y2="541.50" stroke="#1a1a1a" stroke-width="1.2" />
<text x="374.90" y="544.90" font-size="10.3" font-weight="bold" text-anchor="end" fill="#000" >25</text>
<line x1="377.10" y1="562.50" x2="381.80" y2="562.50" stroke="#1a1a1a" stroke-width="1.2" />
<text x="374.90" y="566.00" font-size="10.3" font-weight="bold" text-anchor="end" fill="#000" >0</text>
<line x1="381.20" y1="562.50" x2="515.00" y2="562.50" stroke="#1a1a1a" stroke-width="1.2" />
<text x="358.60" y="494.00" font-size="9.8" font-weight="bold" text-anchor="middle" fill="#000" transform="rotate(-90 358.60 494.00)" >% of viable cells</text>
<text x="341.50" y="417.50" font-size="12.5" font-weight="bold" text-anchor="start" fill="#000" >i)</text>
<text x="388.00" y="424.50" font-size="12.7" font-weight="bold" text-anchor="middle" fill="#000" >B-ALL</text>
<line x1="396.50" y1="562.40" x2="396.50" y2="566.40" stroke="#1a1a1a" stroke-width="1.2" />
<line x1="417.50" y1="562.40" x2="417.50" y2="566.40" stroke="#1a1a1a" stroke-width="1.2" />
<line x1="438.50" y1="562.40" x2="438.50" y2="566.40" stroke="#1a1a1a" stroke-width="1.2" />
<line x1="459.50" y1="562.40" x2="459.50" y2="566.40" stroke="#1a1a1a" stroke-width="1.2" />
<line x1="480.50" y1="562.40" x2="480.50" y2="566.40" stroke="#1a1a1a" stroke-width="1.2" />
<line x1="501.50" y1="562.40" x2="501.50" y2="566.40" stroke="#1a1a1a" stroke-width="1.2" />
<text x="402.20" y="572.40" font-size="10.0" font-weight="bold" text-anchor="end" fill="#000" transform="rotate(-45 402.20 572.40)" >Control</text>
<text x="421.16" y="572.40" font-size="10.0" font-weight="bold" text-anchor="end" fill="#000" transform="rotate(-45 421.16 572.40)" >ATO</text>
<text x="444.69" y="572.40" font-size="10.0" font-weight="bold" text-anchor="end" fill="#000" transform="rotate(-45 444.69 572.40)" >5uM ART</text>
<text x="469.21" y="572.40" font-size="10.0" font-weight="bold" text-anchor="end" fill="#000" transform="rotate(-45 469.21 572.40)" >ATO+5uM ART</text>
<text x="487.16" y="572.40" font-size="10.0" font-weight="bold" text-anchor="end" fill="#000" transform="rotate(-45 487.16 572.40)" >20uM ART</text>
<text x="511.61" y="572.40" font-size="10.0" font-weight="bold" text-anchor="end" fill="#000" transform="rotate(-45 511.61 572.40)" >ATO+ 20uM ART</text>
<line x1="387.70" y1="478.50" x2="405.70" y2="478.50" stroke="#1a1a1a" stroke-width="1.0" />
<line x1="392.10" y1="478.30" x2="401.30" y2="478.30" stroke="#e9a23b" stroke-width="4.7" stroke-linecap="round"/>
<circle cx="417.50" cy="543.74" r="2.5" fill="#8b1a1a"/>
<circle cx="417.50" cy="501.77" r="2.5" fill="#8b1a1a"/>
<circle cx="417.50" cy="476.70" r="2.5" fill="#8b1a1a"/>
<circle cx="417.50" cy="530.32" r="2.5" fill="#8b1a1a"/>
<circle cx="417.50" cy="472.50" r="2.5" fill="#8b1a1a"/>
<circle cx="417.50" cy="490.50" r="2.5" fill="#8b1a1a"/>
<circle cx="417.50" cy="521.19" r="2.5" fill="#8b1a1a"/>
<circle cx="417.50" cy="505.21" r="2.5" fill="#8b1a1a"/>
<circle cx="420.80" cy="519.40" r="2.5" fill="#8b1a1a"/>
<circle cx="417.50" cy="535.01" r="2.5" fill="#8b1a1a"/>
<circle cx="414.20" cy="500.78" r="2.5" fill="#8b1a1a"/>
<circle cx="417.50" cy="539.41" r="2.5" fill="#8b1a1a"/>
<circle cx="419.70" cy="541.46" r="2.5" fill="#8b1a1a"/>
<circle cx="419.70" cy="499.62" r="2.5" fill="#8b1a1a"/>
<circle cx="420.80" cy="506.16" r="2.5" fill="#8b1a1a"/>
<circle cx="414.20" cy="504.00" r="2.5" fill="#8b1a1a"/>
<circle cx="417.50" cy="524.46" r="2.5" fill="#8b1a1a"/>
<circle cx="417.50" cy="516.86" r="2.5" fill="#8b1a1a"/>
<circle cx="413.10" cy="506.84" r="2.5" fill="#8b1a1a"/>
<circle cx="416.40" cy="498.44" r="2.5" fill="#8b1a1a"/>
<circle cx="420.80" cy="534.68" r="2.5" fill="#8b1a1a"/>
<circle cx="414.20" cy="529.79" r="2.5" fill="#8b1a1a"/>
<circle cx="420.80" cy="503.07" r="2.5" fill="#8b1a1a"/>
<circle cx="416.40" cy="508.04" r="2.5" fill="#8b1a1a"/>
<circle cx="423.00" cy="499.21" r="2.5" fill="#8b1a1a"/>
<circle cx="415.30" cy="526.77" r="2.5" fill="#8b1a1a"/>
<line x1="410.00" y1="513.50" x2="425.00" y2="513.50" stroke="#1a1a1a" stroke-width="1.25" />
<line x1="417.50" y1="494.70" x2="417.50" y2="533.00" stroke="#1a1a1a" stroke-width="1.25" />
<line x1="414.70" y1="494.50" x2="420.30" y2="494.50" stroke="#1a1a1a" stroke-width="1.25" />
<line x1="414.70" y1="533.50" x2="420.30" y2="533.50" stroke="#1a1a1a" stroke-width="1.25" />
<circle cx="438.30" cy="484.15" r="2.5" fill="#e8642c"/>
<circle cx="441.60" cy="485.60" r="2.5" fill="#e8642c"/>
<circle cx="438.30" cy="518.30" r="2.5" fill="#e8642c"/>
<circle cx="438.30" cy="496.50" r="2.5" fill="#e8642c"/>
<circle cx="438.30" cy="465.80" r="2.5" fill="#e8642c"/>
<circle cx="435.00" cy="482.70" r="2.5" fill="#e8642c"/>
<circle cx="438.30" cy="509.20" r="2.5" fill="#e8642c"/>
<circle cx="438.30" cy="478.40" r="2.5" fill="#e8642c"/>
<circle cx="436.10" cy="520.80" r="2.5" fill="#e8642c"/>
<circle cx="441.60" cy="479.67" r="2.5" fill="#e8642c"/>
<circle cx="438.30" cy="481.26" r="2.5" fill="#e8642c"/>
<circle cx="438.30" cy="459.50" r="2.5" fill="#e8642c"/>
<circle cx="435.00" cy="486.01" r="2.5" fill="#e8642c"/>
<circle cx="443.80" cy="483.26" r="2.5" fill="#e8642c"/>
<circle cx="441.60" cy="476.51" r="2.5" fill="#e8642c"/>
<circle cx="441.60" cy="496.20" r="2.5" fill="#e8642c"/>
<circle cx="439.40" cy="493.68" r="2.5" fill="#e8642c"/>
<circle cx="435.00" cy="498.24" r="2.5" fill="#e8642c"/>
<circle cx="435.00" cy="477.56" r="2.5" fill="#e8642c"/>
<circle cx="432.80" cy="482.04" r="2.5" fill="#e8642c"/>
<circle cx="432.80" cy="479.04" r="2.5" fill="#e8642c"/>
<circle cx="438.30" cy="475.19" r="2.5" fill="#e8642c"/>
<line x1="430.80" y1="485.50" x2="445.80" y2="485.50" stroke="#1a1a1a" stroke-width="1.25" />
<line x1="438.50" y1="472.00" x2="438.50" y2="500.00" stroke="#1a1a1a" stroke-width="1.25" />
<line x1="435.50" y1="472.50" x2="441.10" y2="472.50" stroke="#1a1a1a" stroke-width="1.25" />
<line x1="435.50" y1="500.50" x2="441.10" y2="500.50" stroke="#1a1a1a" stroke-width="1.25" />
<circle cx="459.70" cy="507.51" r="2.5" fill="#8856bb"/>
<circle cx="459.70" cy="512.44" r="2.5" fill="#8856bb"/>
<circle cx="459.70" cy="495.00" r="2.5" fill="#8856bb"/>
<circle cx="461.90" cy="497.50" r="2.5" fill="#8856bb"/>
<circle cx="457.50" cy="509.64" r="2.5" fill="#8856bb"/>
<circle cx="459.70" cy="553.30" r="2.5" fill="#8856bb"/>
<circle cx="459.70" cy="490.00" r="2.5" fill="#8856bb"/>
<circle cx="459.70" cy="539.25" r="2.5" fill="#8856bb"/>
<circle cx="461.90" cy="510.44" r="2.5" fill="#8856bb"/>
<circle cx="456.40" cy="513.10" r="2.5" fill="#8856bb"/>
<circle cx="463.00" cy="537.82" r="2.5" fill="#8856bb"/>
<circle cx="459.70" cy="479.20" r="2.5" fill="#8856bb"/>
<circle cx="459.70" cy="525.54" r="2.5" fill="#8856bb"/>
<circle cx="464.10" cy="508.35" r="2.5" fill="#8856bb"/>
<circle cx="456.40" cy="538.69" r="2.5" fill="#8856bb"/>
<circle cx="457.50" cy="523.48" r="2.5" fill="#8856bb"/>
<circle cx="464.10" cy="540.66" r="2.5" fill="#8856bb"/>
<circle cx="461.90" cy="514.85" r="2.5" fill="#8856bb"/>
<circle cx="456.40" cy="527.01" r="2.5" fill="#8856bb"/>
<circle cx="460.80" cy="522.71" r="2.5" fill="#8856bb"/>
<line x1="452.20" y1="518.50" x2="467.20" y2="518.50" stroke="#1a1a1a" stroke-width="1.25" />
<line x1="459.50" y1="500.50" x2="459.50" y2="532.50" stroke="#1a1a1a" stroke-width="1.25" />
<line x1="456.90" y1="500.50" x2="462.50" y2="500.50" stroke="#1a1a1a" stroke-width="1.25" />
<line x1="456.90" y1="532.50" x2="462.50" y2="532.50" stroke="#1a1a1a" stroke-width="1.25" />
<circle cx="480.10" cy="484.52" r="2.5" fill="#6b84cb"/>
<circle cx="480.10" cy="501.20" r="2.5" fill="#6b84cb"/>
<circle cx="480.10" cy="479.11" r="2.5" fill="#6b84cb"/>
<circle cx="480.10" cy="496.03" r="2.5" fill="#6b84cb"/>
<circle cx="476.80" cy="480.05" r="2.5" fill="#6b84cb"/>
<circle cx="480.10" cy="489.44" r="2.5" fill="#6b84cb"/>
<circle cx="483.40" cy="490.76" r="2.5" fill="#6b84cb"/>
<circle cx="476.80" cy="488.64" r="2.5" fill="#6b84cb"/>
<circle cx="482.30" cy="482.42" r="2.5" fill="#6b84cb"/>
<circle cx="480.10" cy="538.50" r="2.5" fill="#6b84cb"/>
<circle cx="480.10" cy="507.16" r="2.5" fill="#6b84cb"/>
<circle cx="480.10" cy="522.00" r="2.5" fill="#6b84cb"/>
<circle cx="483.40" cy="487.50" r="2.5" fill="#6b84cb"/>
<circle cx="476.80" cy="509.10" r="2.5" fill="#6b84cb"/>
<circle cx="474.60" cy="486.18" r="2.5" fill="#6b84cb"/>
<circle cx="480.10" cy="513.70" r="2.5" fill="#6b84cb"/>
<circle cx="477.90" cy="498.50" r="2.5" fill="#6b84cb"/>
<circle cx="485.60" cy="480.72" r="2.5" fill="#6b84cb"/>
<circle cx="480.10" cy="525.70" r="2.5" fill="#6b84cb"/>
<circle cx="477.90" cy="476.84" r="2.5" fill="#6b84cb"/>
<circle cx="476.80" cy="483.13" r="2.5" fill="#6b84cb"/>
<circle cx="485.60" cy="484.19" r="2.5" fill="#6b84cb"/>
<circle cx="482.30" cy="504.45" r="2.5" fill="#6b84cb"/>
<circle cx="483.40" cy="478.48" r="2.5" fill="#6b84cb"/>
<circle cx="477.90" cy="486.39" r="2.5" fill="#6b84cb"/>
<line x1="472.60" y1="496.50" x2="487.60" y2="496.50" stroke="#1a1a1a" stroke-width="1.25" />
<line x1="480.50" y1="479.80" x2="480.50" y2="512.50" stroke="#1a1a1a" stroke-width="1.25" />
<line x1="477.30" y1="479.50" x2="482.90" y2="479.50" stroke="#1a1a1a" stroke-width="1.25" />
<line x1="477.30" y1="512.50" x2="482.90" y2="512.50" stroke="#1a1a1a" stroke-width="1.25" />
<circle cx="501.10" cy="542.83" r="2.5" fill="#a6cdea"/>
<circle cx="501.10" cy="537.33" r="2.5" fill="#a6cdea"/>
<circle cx="498.90" cy="535.11" r="2.5" fill="#a6cdea"/>
<circle cx="502.20" cy="533.60" r="2.5" fill="#a6cdea"/>
<circle cx="501.10" cy="503.90" r="2.5" fill="#a6cdea"/>
<circle cx="501.10" cy="524.00" r="2.5" fill="#a6cdea"/>
<circle cx="503.30" cy="544.85" r="2.5" fill="#a6cdea"/>
<circle cx="501.10" cy="516.24" r="2.5" fill="#a6cdea"/>
<circle cx="500.00" cy="531.12" r="2.5" fill="#a6cdea"/>
<circle cx="503.30" cy="521.41" r="2.5" fill="#a6cdea"/>
<circle cx="501.10" cy="499.40" r="2.5" fill="#a6cdea"/>
<circle cx="497.80" cy="538.95" r="2.5" fill="#a6cdea"/>
<circle cx="498.90" cy="518.73" r="2.5" fill="#a6cdea"/>
<circle cx="504.40" cy="540.86" r="2.5" fill="#a6cdea"/>
<circle cx="505.50" cy="532.47" r="2.5" fill="#a6cdea"/>
<circle cx="500.00" cy="546.57" r="2.5" fill="#a6cdea"/>
<circle cx="497.80" cy="522.87" r="2.5" fill="#a6cdea"/>
<circle cx="501.10" cy="553.60" r="2.5" fill="#a6cdea"/>
<circle cx="502.20" cy="528.65" r="2.5" fill="#a6cdea"/>
<circle cx="504.40" cy="525.37" r="2.5" fill="#a6cdea"/>
<circle cx="498.90" cy="526.84" r="2.5" fill="#a6cdea"/>
<circle cx="506.60" cy="520.18" r="2.5" fill="#a6cdea"/>
<circle cx="506.60" cy="539.28" r="2.5" fill="#a6cdea"/>
<circle cx="503.30" cy="547.99" r="2.5" fill="#a6cdea"/>
<line x1="493.60" y1="529.50" x2="508.60" y2="529.50" stroke="#1a1a1a" stroke-width="1.25" />
<line x1="501.50" y1="516.20" x2="501.50" y2="543.30" stroke="#1a1a1a" stroke-width="1.25" />
<line x1="498.30" y1="516.50" x2="503.90" y2="516.50" stroke="#1a1a1a" stroke-width="1.25" />
<line x1="498.30" y1="543.50" x2="503.90" y2="543.50" stroke="#1a1a1a" stroke-width="1.25" />
<polyline points="396.50,474.50 396.50,459.50 417.50,459.50 417.50,471.50" fill="none" stroke="#1a1a1a" stroke-width="1.1" stroke-linejoin="miter"/>
<polyline points="417.50,452.50 417.50,443.50 436.50,443.50 436.50,451.50" fill="none" stroke="#1a1a1a" stroke-width="1.1" stroke-linejoin="miter"/>
<polyline points="438.50,433.50 438.50,426.50 501.50,426.50 501.50,449.50" fill="none" stroke="#1a1a1a" stroke-width="1.1" stroke-linejoin="miter"/>
<polyline points="440.50,458.50 440.50,454.50 457.50,454.50 457.50,467.50" fill="none" stroke="#1a1a1a" stroke-width="1.1" stroke-linejoin="miter"/>
<polyline points="461.50,472.50 461.50,451.50 478.50,451.50 478.50,468.50" fill="none" stroke="#1a1a1a" stroke-width="1.1" stroke-linejoin="miter"/>
<polyline points="482.50,478.50 482.50,459.50 501.50,459.50 501.50,497.50" fill="none" stroke="#1a1a1a" stroke-width="1.1" stroke-linejoin="miter"/>
<path d="M399.20 451.33L399.20 456.27M397.06 452.56L401.34 455.04M401.34 452.56L397.06 455.04M404.40 451.33L404.40 456.27M402.26 452.56L406.54 455.04M406.54 452.56L402.26 455.04M409.60 451.33L409.60 456.27M407.46 452.56L411.74 455.04M411.74 452.56L407.46 455.04M414.80 451.33L414.80 456.27M412.66 452.56L416.94 455.04M416.94 452.56L412.66 455.04" stroke="#000" stroke-width="1.24" fill="none"/>
<path d="M419.00 435.03L419.00 439.97M416.86 436.26L421.14 438.74M421.14 436.26L416.86 438.74M424.20 435.03L424.20 439.97M422.06 436.26L426.34 438.74M426.34 436.26L422.06 438.74M429.40 435.03L429.40 439.97M427.26 436.26L431.54 438.74M431.54 436.26L427.26 438.74M434.60 435.03L434.60 439.97M432.46 436.26L436.74 438.74M436.74 436.26L432.46 438.74" stroke="#000" stroke-width="1.24" fill="none"/>
<path d="M462.20 418.43L462.20 423.37M460.06 419.66L464.34 422.13M464.34 419.66L460.06 422.13M467.40 418.43L467.40 423.37M465.26 419.66L469.54 422.13M469.54 419.66L465.26 422.13M472.60 418.43L472.60 423.37M470.46 419.66L474.74 422.13M474.74 419.66L470.46 422.13M477.80 418.43L477.80 423.37M475.66 419.66L479.94 422.13M479.94 419.66L475.66 422.13" stroke="#000" stroke-width="1.24" fill="none"/>
<path d="M441.20 446.03L441.20 450.97M439.06 447.26L443.34 449.74M443.34 447.26L439.06 449.74M446.40 446.03L446.40 450.97M444.26 447.26L448.54 449.74M448.54 447.26L444.26 449.74M451.60 446.03L451.60 450.97M449.46 447.26L453.74 449.74M453.74 447.26L449.46 449.74M456.80 446.03L456.80 450.97M454.66 447.26L458.94 449.74M458.94 447.26L454.66 449.74" stroke="#000" stroke-width="1.24" fill="none"/>
<path d="M462.20 442.93L462.20 447.87M460.06 444.16L464.34 446.63M464.34 444.16L460.06 446.63M467.40 442.93L467.40 447.87M465.26 444.16L469.54 446.63M469.54 444.16L465.26 446.63M472.60 442.93L472.60 447.87M470.46 444.16L474.74 446.63M474.74 444.16L470.46 446.63M477.80 442.93L477.80 447.87M475.66 444.16L479.94 446.63M479.94 444.16L475.66 446.63" stroke="#000" stroke-width="1.24" fill="none"/>
<path d="M484.20 451.33L484.20 456.27M482.06 452.56L486.34 455.04M486.34 452.56L482.06 455.04M489.40 451.33L489.40 456.27M487.26 452.56L491.54 455.04M491.54 452.56L487.26 455.04M494.60 451.33L494.60 456.27M492.46 452.56L496.74 455.04M496.74 452.56L492.46 455.04M499.80 451.33L499.80 456.27M497.66 452.56L501.94 455.04M501.94 452.56L497.66 455.04" stroke="#000" stroke-width="1.24" fill="none"/>
<line x1="555.50" y1="437.10" x2="555.50" y2="562.00" stroke="#1a1a1a" stroke-width="1.2" />
<line x1="550.30" y1="437.50" x2="555.00" y2="437.50" stroke="#1a1a1a" stroke-width="1.2" />
<text x="548.10" y="441.11" font-size="10.3" font-weight="bold" text-anchor="end" fill="#000" >150</text>
<line x1="550.30" y1="458.50" x2="555.00" y2="458.50" stroke="#1a1a1a" stroke-width="1.2" />
<text x="548.10" y="461.75" font-size="10.3" font-weight="bold" text-anchor="end" fill="#000" >125</text>
<line x1="550.30" y1="478.50" x2="555.00" y2="478.50" stroke="#1a1a1a" stroke-width="1.2" />
<text x="548.10" y="482.40" font-size="10.3" font-weight="bold" text-anchor="end" fill="#000" >100</text>
<line x1="550.30" y1="499.50" x2="555.00" y2="499.50" stroke="#1a1a1a" stroke-width="1.2" />
<text x="548.10" y="503.06" font-size="10.3" font-weight="bold" text-anchor="end" fill="#000" >75</text>
<line x1="550.30" y1="520.50" x2="555.00" y2="520.50" stroke="#1a1a1a" stroke-width="1.2" />
<text x="548.10" y="523.71" font-size="10.3" font-weight="bold" text-anchor="end" fill="#000" >50</text>
<line x1="550.30" y1="540.50" x2="555.00" y2="540.50" stroke="#1a1a1a" stroke-width="1.2" />
<text x="548.10" y="544.36" font-size="10.3" font-weight="bold" text-anchor="end" fill="#000" >25</text>
<line x1="550.30" y1="561.50" x2="555.00" y2="561.50" stroke="#1a1a1a" stroke-width="1.2" />
<text x="548.10" y="565.00" font-size="10.3" font-weight="bold" text-anchor="end" fill="#000" >0</text>
<line x1="554.40" y1="561.50" x2="684.00" y2="561.50" stroke="#1a1a1a" stroke-width="1.2" />
<text x="530.80" y="496.40" font-size="10.5" font-weight="bold" text-anchor="middle" fill="#000" transform="rotate(-90 530.80 496.40)" >% of viable cells</text>
<text x="515.30" y="417.00" font-size="12.5" font-weight="bold" text-anchor="start" fill="#000" >j)</text>
<text x="571.40" y="422.40" font-size="12.7" font-weight="bold" text-anchor="middle" fill="#000" >T-ALL</text>
<line x1="567.50" y1="561.40" x2="567.50" y2="565.40" stroke="#1a1a1a" stroke-width="1.2" />
<line x1="588.50" y1="561.40" x2="588.50" y2="565.40" stroke="#1a1a1a" stroke-width="1.2" />
<line x1="608.50" y1="561.40" x2="608.50" y2="565.40" stroke="#1a1a1a" stroke-width="1.2" />
<line x1="629.50" y1="561.40" x2="629.50" y2="565.40" stroke="#1a1a1a" stroke-width="1.2" />
<line x1="649.50" y1="561.40" x2="649.50" y2="565.40" stroke="#1a1a1a" stroke-width="1.2" />
<line x1="670.50" y1="561.40" x2="670.50" y2="565.40" stroke="#1a1a1a" stroke-width="1.2" />
<text x="571.40" y="571.40" font-size="10.4" font-weight="bold" text-anchor="end" fill="#000" transform="rotate(-45 571.40 571.40)" >Control</text>
<text x="591.14" y="571.40" font-size="10.4" font-weight="bold" text-anchor="end" fill="#000" transform="rotate(-45 591.14 571.40)" >ATO</text>
<text x="612.36" y="571.40" font-size="10.4" font-weight="bold" text-anchor="end" fill="#000" transform="rotate(-45 612.36 571.40)" >5uM ART</text>
<text x="634.99" y="571.40" font-size="10.4" font-weight="bold" text-anchor="end" fill="#000" transform="rotate(-45 634.99 571.40)" >ATO+5uM ART</text>
<text x="653.91" y="571.40" font-size="10.4" font-weight="bold" text-anchor="end" fill="#000" transform="rotate(-45 653.91 571.40)" >20uM ART</text>
<text x="676.11" y="571.40" font-size="10.4" font-weight="bold" text-anchor="end" fill="#000" transform="rotate(-45 676.11 571.40)" >ATO+ 20uM ART</text>
<line x1="559.60" y1="479.50" x2="577.60" y2="479.50" stroke="#1a1a1a" stroke-width="1.0" />
<line x1="564.00" y1="479.10" x2="573.20" y2="479.10" stroke="#e9a23b" stroke-width="4.7" stroke-linecap="round"/>
<circle cx="584.50" cy="499.90" r="2.5" fill="#8b1a1a"/>
<circle cx="589.10" cy="502.20" r="2.5" fill="#8b1a1a"/>
<circle cx="584.50" cy="508.00" r="2.5" fill="#8b1a1a"/>
<circle cx="593.10" cy="508.00" r="2.5" fill="#8b1a1a"/>
<circle cx="589.10" cy="512.20" r="2.5" fill="#8b1a1a"/>
<circle cx="588.80" cy="519.00" r="2.5" fill="#8b1a1a"/>
<circle cx="588.80" cy="526.40" r="2.5" fill="#8b1a1a"/>
<line x1="582.00" y1="510.50" x2="595.20" y2="510.50" stroke="#1a1a1a" stroke-width="1.25" />
<line x1="588.50" y1="502.20" x2="588.50" y2="519.40" stroke="#1a1a1a" stroke-width="1.25" />
<line x1="585.80" y1="502.50" x2="591.40" y2="502.50" stroke="#1a1a1a" stroke-width="1.25" />
<line x1="585.80" y1="519.50" x2="591.40" y2="519.50" stroke="#1a1a1a" stroke-width="1.25" />
<line x1="600.20" y1="485.50" x2="616.60" y2="485.50" stroke="#1a1a1a" stroke-width="1.25" />
<line x1="608.50" y1="485.50" x2="608.50" y2="485.50" stroke="#1a1a1a" stroke-width="1.25" />
<line x1="605.60" y1="485.50" x2="611.20" y2="485.50" stroke="#1a1a1a" stroke-width="1.25" />
<line x1="605.60" y1="485.50" x2="611.20" y2="485.50" stroke="#1a1a1a" stroke-width="1.25" />
<circle cx="604.10" cy="480.70" r="2.5" fill="#e8642c"/>
<circle cx="609.50" cy="482.30" r="2.5" fill="#e8642c"/>
<circle cx="613.30" cy="485.30" r="2.5" fill="#e8642c"/>
<circle cx="604.10" cy="486.10" r="2.5" fill="#e8642c"/>
<circle cx="611.00" cy="488.40" r="2.5" fill="#e8642c"/>
<circle cx="607.20" cy="491.50" r="2.5" fill="#e8642c"/>
<circle cx="606.50" cy="484.00" r="2.5" fill="#e8642c"/>
<circle cx="629.40" cy="504.50" r="2.5" fill="#8856bb"/>
<circle cx="629.40" cy="509.50" r="2.5" fill="#8856bb"/>
<circle cx="629.40" cy="516.00" r="2.5" fill="#8856bb"/>
<circle cx="629.40" cy="522.10" r="2.5" fill="#8856bb"/>
<circle cx="624.80" cy="528.20" r="2.5" fill="#8856bb"/>
<circle cx="633.70" cy="529.50" r="2.5" fill="#8856bb"/>
<circle cx="629.40" cy="545.40" r="2.5" fill="#8856bb"/>
<line x1="621.00" y1="522.50" x2="637.80" y2="522.50" stroke="#1a1a1a" stroke-width="1.25" />
<line x1="629.50" y1="503.40" x2="629.50" y2="536.20" stroke="#1a1a1a" stroke-width="1.25" />
<line x1="626.60" y1="503.50" x2="632.20" y2="503.50" stroke="#1a1a1a" stroke-width="1.25" />
<line x1="626.60" y1="536.50" x2="632.20" y2="536.50" stroke="#1a1a1a" stroke-width="1.25" />
<circle cx="645.20" cy="498.40" r="2.5" fill="#6b84cb"/>
<circle cx="649.60" cy="496.80" r="2.5" fill="#6b84cb"/>
<circle cx="654.00" cy="501.90" r="2.5" fill="#6b84cb"/>
<circle cx="649.60" cy="505.30" r="2.5" fill="#6b84cb"/>
<circle cx="654.00" cy="514.80" r="2.5" fill="#6b84cb"/>
<circle cx="649.60" cy="519.40" r="2.5" fill="#6b84cb"/>
<circle cx="649.60" cy="528.60" r="2.5" fill="#6b84cb"/>
<line x1="642.90" y1="509.50" x2="656.30" y2="509.50" stroke="#1a1a1a" stroke-width="1.25" />
<line x1="649.50" y1="497.60" x2="649.50" y2="521.30" stroke="#1a1a1a" stroke-width="1.25" />
<line x1="646.80" y1="497.50" x2="652.40" y2="497.50" stroke="#1a1a1a" stroke-width="1.25" />
<line x1="646.80" y1="521.50" x2="652.40" y2="521.50" stroke="#1a1a1a" stroke-width="1.25" />
<circle cx="670.00" cy="520.30" r="2.5" fill="#a6cdea"/>
<circle cx="666.70" cy="530.50" r="2.5" fill="#a6cdea"/>
<circle cx="673.90" cy="533.60" r="2.5" fill="#a6cdea"/>
<circle cx="666.20" cy="534.10" r="2.5" fill="#a6cdea"/>
<circle cx="670.00" cy="544.80" r="2.5" fill="#a6cdea"/>
<circle cx="670.00" cy="552.80" r="2.5" fill="#a6cdea"/>
<line x1="663.00" y1="535.50" x2="677.00" y2="535.50" stroke="#1a1a1a" stroke-width="1.25" />
<line x1="670.50" y1="525.60" x2="670.50" y2="546.30" stroke="#1a1a1a" stroke-width="1.25" />
<line x1="667.20" y1="525.50" x2="672.80" y2="525.50" stroke="#1a1a1a" stroke-width="1.25" />
<line x1="667.20" y1="546.50" x2="672.80" y2="546.50" stroke="#1a1a1a" stroke-width="1.25" />
<polyline points="608.50,426.50 608.50,420.50 669.50,420.50 669.50,458.50" fill="none" stroke="#1a1a1a" stroke-width="1.1" stroke-linejoin="miter"/>
<polyline points="568.50,458.50 568.50,437.50 629.50,437.50 629.50,442.50" fill="none" stroke="#1a1a1a" stroke-width="1.1" stroke-linejoin="miter"/>
<polyline points="588.50,458.50 588.50,453.50 607.50,453.50 607.50,458.50" fill="none" stroke="#1a1a1a" stroke-width="1.1" stroke-linejoin="miter"/>
<polyline points="610.50,458.50 610.50,453.50 649.50,453.50 649.50,458.50" fill="none" stroke="#1a1a1a" stroke-width="1.1" stroke-linejoin="miter"/>
<polyline points="568.50,475.50 568.50,469.50 588.50,469.50 588.50,494.50" fill="none" stroke="#1a1a1a" stroke-width="1.1" stroke-linejoin="miter"/>
<polyline points="608.50,475.50 608.50,469.50 629.50,469.50 629.50,500.50" fill="none" stroke="#1a1a1a" stroke-width="1.1" stroke-linejoin="miter"/>
<polyline points="649.50,493.50 649.50,469.50 669.50,469.50 669.50,513.50" fill="none" stroke="#1a1a1a" stroke-width="1.1" stroke-linejoin="miter"/>
<path d="M632.08 412.68L632.08 417.32M630.07 413.84L634.09 416.16M634.09 413.84L630.07 416.16M636.96 412.68L636.96 417.32M634.95 413.84L638.97 416.16M638.97 413.84L634.95 416.16M641.84 412.68L641.84 417.32M639.83 413.84L643.85 416.16M643.85 413.84L639.83 416.16M646.72 412.68L646.72 417.32M644.71 413.84L648.73 416.16M648.73 413.84L644.71 416.16" stroke="#000" stroke-width="1.16" fill="none"/>
<path d="M591.38 429.48L591.38 434.12M589.37 430.64L593.39 432.96M593.39 430.64L589.37 432.96M596.26 429.48L596.26 434.12M594.25 430.64L598.27 432.96M598.27 430.64L594.25 432.96M601.14 429.48L601.14 434.12M599.13 430.64L603.15 432.96M603.15 430.64L599.13 432.96M606.02 429.48L606.02 434.12M604.01 430.64L608.03 432.96M608.03 430.64L604.01 432.96" stroke="#000" stroke-width="1.16" fill="none"/>
<path d="M593.12 445.18L593.12 449.82M591.11 446.34L595.13 448.66M595.13 446.34L591.11 448.66M598.00 445.18L598.00 449.82M595.99 446.34L600.01 448.66M600.01 446.34L595.99 448.66M602.88 445.18L602.88 449.82M600.87 446.34L604.89 448.66M604.89 446.34L600.87 448.66" stroke="#000" stroke-width="1.16" fill="none"/>
<path d="M625.42 445.18L625.42 449.82M623.41 446.34L627.43 448.66M627.43 446.34L623.41 448.66M630.30 445.18L630.30 449.82M628.29 446.34L632.31 448.66M632.31 446.34L628.29 448.66M635.18 445.18L635.18 449.82M633.17 446.34L637.19 448.66M637.19 446.34L633.17 448.66" stroke="#000" stroke-width="1.16" fill="none"/>
<path d="M571.48 461.48L571.48 466.12M569.47 462.64L573.49 464.96M573.49 462.64L569.47 464.96M576.36 461.48L576.36 466.12M574.35 462.64L578.37 464.96M578.37 462.64L574.35 464.96M581.24 461.48L581.24 466.12M579.23 462.64L583.25 464.96M583.25 462.64L579.23 464.96M586.12 461.48L586.12 466.12M584.11 462.64L588.13 464.96M588.13 462.64L584.11 464.96" stroke="#000" stroke-width="1.16" fill="none"/>
<path d="M611.98 461.48L611.98 466.12M609.97 462.64L613.99 464.96M613.99 462.64L609.97 464.96M616.86 461.48L616.86 466.12M614.85 462.64L618.87 464.96M618.87 462.64L614.85 464.96M621.74 461.48L621.74 466.12M619.73 462.64L623.75 464.96M623.75 462.64L619.73 464.96M626.62 461.48L626.62 466.12M624.61 462.64L628.63 464.96M628.63 462.64L624.61 464.96" stroke="#000" stroke-width="1.16" fill="none"/>
<path d="M652.68 461.48L652.68 466.12M650.67 462.64L654.69 464.96M654.69 462.64L650.67 464.96M657.56 461.48L657.56 466.12M655.55 462.64L659.57 464.96M659.57 462.64L655.55 464.96M662.44 461.48L662.44 466.12M660.43 462.64L664.45 464.96M664.45 462.64L660.43 464.96M667.32 461.48L667.32 466.12M665.31 462.64L669.33 464.96M669.33 462.64L665.31 464.96" stroke="#000" stroke-width="1.16" fill="none"/>
</svg></body></html>
